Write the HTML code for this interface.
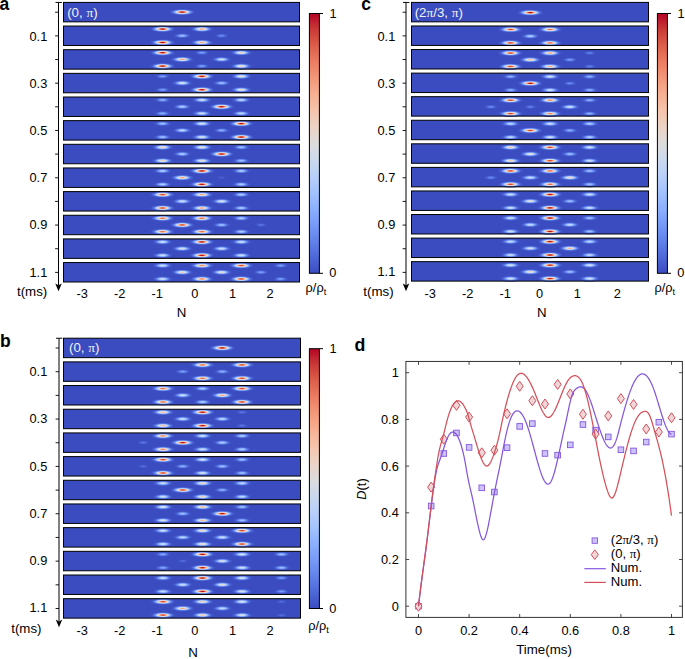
<!DOCTYPE html>
<html><head><meta charset="utf-8"><style>
html,body{margin:0;padding:0;background:#fff;overflow:hidden;}
svg{display:block;}
text{font-family:"Liberation Sans", sans-serif;fill:#000;}
</style></head><body>
<svg width="685" height="659" viewBox="0 0 685 659">
<defs>
<radialGradient id="g2" cx="0.5" cy="0.5" r="0.5"><stop offset="0.000" stop-color="#4961d2"/><stop offset="0.062" stop-color="#4961d2"/><stop offset="0.125" stop-color="#4961d2"/><stop offset="0.188" stop-color="#485fd1"/><stop offset="0.250" stop-color="#465ecf"/><stop offset="0.312" stop-color="#445acc"/><stop offset="0.375" stop-color="#4358cb"/><stop offset="0.438" stop-color="#4257c9"/><stop offset="0.500" stop-color="#3f53c6"/><stop offset="0.562" stop-color="#3e51c5"/><stop offset="0.625" stop-color="#3d50c3"/><stop offset="0.688" stop-color="#3c4ec2"/><stop offset="0.750" stop-color="#3c4ec2"/><stop offset="0.812" stop-color="#3b4cc0"/><stop offset="0.875" stop-color="#3b4cc0"/><stop offset="0.938" stop-color="#3b4cc0"/><stop offset="1.000" stop-color="#3b4cc0"/></radialGradient>
<radialGradient id="g3" cx="0.5" cy="0.5" r="0.5"><stop offset="0.000" stop-color="#516ddb"/><stop offset="0.062" stop-color="#516ddb"/><stop offset="0.125" stop-color="#506bda"/><stop offset="0.188" stop-color="#4f69d9"/><stop offset="0.250" stop-color="#4c66d6"/><stop offset="0.312" stop-color="#4a63d3"/><stop offset="0.375" stop-color="#485fd1"/><stop offset="0.438" stop-color="#455cce"/><stop offset="0.500" stop-color="#4358cb"/><stop offset="0.562" stop-color="#4055c8"/><stop offset="0.625" stop-color="#3e51c5"/><stop offset="0.688" stop-color="#3d50c3"/><stop offset="0.750" stop-color="#3c4ec2"/><stop offset="0.812" stop-color="#3c4ec2"/><stop offset="0.875" stop-color="#3b4cc0"/><stop offset="0.938" stop-color="#3b4cc0"/><stop offset="1.000" stop-color="#3b4cc0"/></radialGradient>
<radialGradient id="g4" cx="0.5" cy="0.5" r="0.5"><stop offset="0.000" stop-color="#5977e3"/><stop offset="0.062" stop-color="#5977e3"/><stop offset="0.125" stop-color="#5875e1"/><stop offset="0.188" stop-color="#5572df"/><stop offset="0.250" stop-color="#536edd"/><stop offset="0.312" stop-color="#4f69d9"/><stop offset="0.375" stop-color="#4c66d6"/><stop offset="0.438" stop-color="#4961d2"/><stop offset="0.500" stop-color="#455cce"/><stop offset="0.562" stop-color="#4358cb"/><stop offset="0.625" stop-color="#3f53c6"/><stop offset="0.688" stop-color="#3e51c5"/><stop offset="0.750" stop-color="#3d50c3"/><stop offset="0.812" stop-color="#3c4ec2"/><stop offset="0.875" stop-color="#3b4cc0"/><stop offset="0.938" stop-color="#3b4cc0"/><stop offset="1.000" stop-color="#3b4cc0"/></radialGradient>
<radialGradient id="g5" cx="0.5" cy="0.5" r="0.5"><stop offset="0.000" stop-color="#6282ea"/><stop offset="0.062" stop-color="#6180e9"/><stop offset="0.125" stop-color="#5f7fe8"/><stop offset="0.188" stop-color="#5d7ce6"/><stop offset="0.250" stop-color="#5977e3"/><stop offset="0.312" stop-color="#5572df"/><stop offset="0.375" stop-color="#506bda"/><stop offset="0.438" stop-color="#4c66d6"/><stop offset="0.500" stop-color="#485fd1"/><stop offset="0.562" stop-color="#445acc"/><stop offset="0.625" stop-color="#4257c9"/><stop offset="0.688" stop-color="#3f53c6"/><stop offset="0.750" stop-color="#3d50c3"/><stop offset="0.812" stop-color="#3c4ec2"/><stop offset="0.875" stop-color="#3c4ec2"/><stop offset="0.938" stop-color="#3b4cc0"/><stop offset="1.000" stop-color="#3b4cc0"/></radialGradient>
<radialGradient id="g6" cx="0.5" cy="0.5" r="0.5"><stop offset="0.000" stop-color="#6a8bef"/><stop offset="0.062" stop-color="#6a8bef"/><stop offset="0.125" stop-color="#6788ee"/><stop offset="0.188" stop-color="#6485ec"/><stop offset="0.250" stop-color="#5f7fe8"/><stop offset="0.312" stop-color="#5a78e4"/><stop offset="0.375" stop-color="#5572df"/><stop offset="0.438" stop-color="#506bda"/><stop offset="0.500" stop-color="#4b64d5"/><stop offset="0.562" stop-color="#465ecf"/><stop offset="0.625" stop-color="#4358cb"/><stop offset="0.688" stop-color="#4055c8"/><stop offset="0.750" stop-color="#3e51c5"/><stop offset="0.812" stop-color="#3d50c3"/><stop offset="0.875" stop-color="#3c4ec2"/><stop offset="0.938" stop-color="#3b4cc0"/><stop offset="1.000" stop-color="#3b4cc0"/></radialGradient>
<radialGradient id="g8" cx="0.5" cy="0.5" r="0.5"><stop offset="0.000" stop-color="#7b9ff9"/><stop offset="0.062" stop-color="#7a9df8"/><stop offset="0.125" stop-color="#779af7"/><stop offset="0.188" stop-color="#7396f5"/><stop offset="0.250" stop-color="#6e90f2"/><stop offset="0.312" stop-color="#6687ed"/><stop offset="0.375" stop-color="#5f7fe8"/><stop offset="0.438" stop-color="#5875e1"/><stop offset="0.500" stop-color="#506bda"/><stop offset="0.562" stop-color="#4b64d5"/><stop offset="0.625" stop-color="#455cce"/><stop offset="0.688" stop-color="#4257c9"/><stop offset="0.750" stop-color="#3f53c6"/><stop offset="0.812" stop-color="#3d50c3"/><stop offset="0.875" stop-color="#3c4ec2"/><stop offset="0.938" stop-color="#3b4cc0"/><stop offset="1.000" stop-color="#3b4cc0"/></radialGradient>
<radialGradient id="g9" cx="0.5" cy="0.5" r="0.5"><stop offset="0.000" stop-color="#84a7fc"/><stop offset="0.062" stop-color="#84a7fc"/><stop offset="0.125" stop-color="#80a3fa"/><stop offset="0.188" stop-color="#7b9ff9"/><stop offset="0.250" stop-color="#7597f6"/><stop offset="0.312" stop-color="#6c8ff1"/><stop offset="0.375" stop-color="#6384eb"/><stop offset="0.438" stop-color="#5b7ae5"/><stop offset="0.500" stop-color="#5470de"/><stop offset="0.562" stop-color="#4c66d6"/><stop offset="0.625" stop-color="#485fd1"/><stop offset="0.688" stop-color="#4358cb"/><stop offset="0.750" stop-color="#4055c8"/><stop offset="0.812" stop-color="#3e51c5"/><stop offset="0.875" stop-color="#3c4ec2"/><stop offset="0.938" stop-color="#3c4ec2"/><stop offset="1.000" stop-color="#3b4cc0"/></radialGradient>
<radialGradient id="g10" cx="0.5" cy="0.5" r="0.5"><stop offset="0.000" stop-color="#8db0fe"/><stop offset="0.062" stop-color="#8caffe"/><stop offset="0.125" stop-color="#89acfd"/><stop offset="0.188" stop-color="#84a7fc"/><stop offset="0.250" stop-color="#7b9ff9"/><stop offset="0.312" stop-color="#7295f4"/><stop offset="0.375" stop-color="#688aef"/><stop offset="0.438" stop-color="#5f7fe8"/><stop offset="0.500" stop-color="#5673e0"/><stop offset="0.562" stop-color="#4f69d9"/><stop offset="0.625" stop-color="#4961d2"/><stop offset="0.688" stop-color="#445acc"/><stop offset="0.750" stop-color="#4055c8"/><stop offset="0.812" stop-color="#3e51c5"/><stop offset="0.875" stop-color="#3d50c3"/><stop offset="0.938" stop-color="#3c4ec2"/><stop offset="1.000" stop-color="#3b4cc0"/></radialGradient>
<radialGradient id="g12" cx="0.5" cy="0.5" r="0.5"><stop offset="0.000" stop-color="#9ebeff"/><stop offset="0.062" stop-color="#9ebeff"/><stop offset="0.125" stop-color="#9abbff"/><stop offset="0.188" stop-color="#93b5fe"/><stop offset="0.250" stop-color="#89acfd"/><stop offset="0.312" stop-color="#7ea1fa"/><stop offset="0.375" stop-color="#7396f5"/><stop offset="0.438" stop-color="#6788ee"/><stop offset="0.500" stop-color="#5d7ce6"/><stop offset="0.562" stop-color="#5470de"/><stop offset="0.625" stop-color="#4b64d5"/><stop offset="0.688" stop-color="#465ecf"/><stop offset="0.750" stop-color="#4257c9"/><stop offset="0.812" stop-color="#3f53c6"/><stop offset="0.875" stop-color="#3d50c3"/><stop offset="0.938" stop-color="#3c4ec2"/><stop offset="1.000" stop-color="#3b4cc0"/></radialGradient>
<radialGradient id="g14" cx="0.5" cy="0.5" r="0.5"><stop offset="0.000" stop-color="#afcafc"/><stop offset="0.062" stop-color="#aec9fc"/><stop offset="0.125" stop-color="#aac7fd"/><stop offset="0.188" stop-color="#a2c1ff"/><stop offset="0.250" stop-color="#98b9ff"/><stop offset="0.312" stop-color="#8badfd"/><stop offset="0.375" stop-color="#7da0f9"/><stop offset="0.438" stop-color="#6f92f3"/><stop offset="0.500" stop-color="#6282ea"/><stop offset="0.562" stop-color="#5875e1"/><stop offset="0.625" stop-color="#4f69d9"/><stop offset="0.688" stop-color="#485fd1"/><stop offset="0.750" stop-color="#4358cb"/><stop offset="0.812" stop-color="#3f53c6"/><stop offset="0.875" stop-color="#3d50c3"/><stop offset="0.938" stop-color="#3c4ec2"/><stop offset="1.000" stop-color="#3b4cc0"/></radialGradient>
<radialGradient id="g16" cx="0.5" cy="0.5" r="0.5"><stop offset="0.000" stop-color="#c0d4f5"/><stop offset="0.062" stop-color="#bfd3f6"/><stop offset="0.125" stop-color="#bad0f8"/><stop offset="0.188" stop-color="#b2ccfb"/><stop offset="0.250" stop-color="#a6c4fe"/><stop offset="0.312" stop-color="#97b8ff"/><stop offset="0.375" stop-color="#88abfd"/><stop offset="0.438" stop-color="#779af7"/><stop offset="0.500" stop-color="#688aef"/><stop offset="0.562" stop-color="#5d7ce6"/><stop offset="0.625" stop-color="#516ddb"/><stop offset="0.688" stop-color="#4a63d3"/><stop offset="0.750" stop-color="#445acc"/><stop offset="0.812" stop-color="#4055c8"/><stop offset="0.875" stop-color="#3e51c5"/><stop offset="0.938" stop-color="#3c4ec2"/><stop offset="1.000" stop-color="#3c4ec2"/></radialGradient>
<radialGradient id="g17" cx="0.5" cy="0.5" r="0.5"><stop offset="0.000" stop-color="#c7d7f0"/><stop offset="0.062" stop-color="#c6d6f1"/><stop offset="0.125" stop-color="#c1d4f4"/><stop offset="0.188" stop-color="#b9d0f9"/><stop offset="0.250" stop-color="#adc9fd"/><stop offset="0.312" stop-color="#9ebeff"/><stop offset="0.375" stop-color="#8caffe"/><stop offset="0.438" stop-color="#7b9ff9"/><stop offset="0.500" stop-color="#6c8ff1"/><stop offset="0.562" stop-color="#5e7de7"/><stop offset="0.625" stop-color="#5470de"/><stop offset="0.688" stop-color="#4b64d5"/><stop offset="0.750" stop-color="#455cce"/><stop offset="0.812" stop-color="#4055c8"/><stop offset="0.875" stop-color="#3e51c5"/><stop offset="0.938" stop-color="#3d50c3"/><stop offset="1.000" stop-color="#3c4ec2"/></radialGradient>
<radialGradient id="g18" cx="0.5" cy="0.5" r="0.5"><stop offset="0.000" stop-color="#cfdaea"/><stop offset="0.062" stop-color="#cedaeb"/><stop offset="0.125" stop-color="#c9d7f0"/><stop offset="0.188" stop-color="#c0d4f5"/><stop offset="0.250" stop-color="#b3cdfb"/><stop offset="0.312" stop-color="#a3c2fe"/><stop offset="0.375" stop-color="#92b4fe"/><stop offset="0.438" stop-color="#80a3fa"/><stop offset="0.500" stop-color="#6f92f3"/><stop offset="0.562" stop-color="#6180e9"/><stop offset="0.625" stop-color="#5572df"/><stop offset="0.688" stop-color="#4c66d6"/><stop offset="0.750" stop-color="#465ecf"/><stop offset="0.812" stop-color="#4257c9"/><stop offset="0.875" stop-color="#3e51c5"/><stop offset="0.938" stop-color="#3d50c3"/><stop offset="1.000" stop-color="#3c4ec2"/></radialGradient>
<radialGradient id="g19" cx="0.5" cy="0.5" r="0.5"><stop offset="0.000" stop-color="#d6dce4"/><stop offset="0.062" stop-color="#d5dbe5"/><stop offset="0.125" stop-color="#cfdaea"/><stop offset="0.188" stop-color="#c7d7f0"/><stop offset="0.250" stop-color="#bad0f8"/><stop offset="0.312" stop-color="#aac7fd"/><stop offset="0.375" stop-color="#97b8ff"/><stop offset="0.438" stop-color="#84a7fc"/><stop offset="0.500" stop-color="#7295f4"/><stop offset="0.562" stop-color="#6384eb"/><stop offset="0.625" stop-color="#5673e0"/><stop offset="0.688" stop-color="#4e68d8"/><stop offset="0.750" stop-color="#465ecf"/><stop offset="0.812" stop-color="#4257c9"/><stop offset="0.875" stop-color="#3e51c5"/><stop offset="0.938" stop-color="#3d50c3"/><stop offset="1.000" stop-color="#3c4ec2"/></radialGradient>
<radialGradient id="g20" cx="0.5" cy="0.5" r="0.5"><stop offset="0.000" stop-color="#dddcdc"/><stop offset="0.062" stop-color="#dbdcde"/><stop offset="0.125" stop-color="#d7dce3"/><stop offset="0.188" stop-color="#cedaeb"/><stop offset="0.250" stop-color="#c0d4f5"/><stop offset="0.312" stop-color="#afcafc"/><stop offset="0.375" stop-color="#9dbdff"/><stop offset="0.438" stop-color="#88abfd"/><stop offset="0.500" stop-color="#7699f6"/><stop offset="0.562" stop-color="#6687ed"/><stop offset="0.625" stop-color="#5875e1"/><stop offset="0.688" stop-color="#4f69d9"/><stop offset="0.750" stop-color="#485fd1"/><stop offset="0.812" stop-color="#4257c9"/><stop offset="0.875" stop-color="#3f53c6"/><stop offset="0.938" stop-color="#3d50c3"/><stop offset="1.000" stop-color="#3c4ec2"/></radialGradient>
<radialGradient id="g22" cx="0.5" cy="0.5" r="0.5"><stop offset="0.000" stop-color="#e9d5cb"/><stop offset="0.062" stop-color="#e8d6cc"/><stop offset="0.125" stop-color="#e3d9d3"/><stop offset="0.188" stop-color="#dadce0"/><stop offset="0.250" stop-color="#cdd9ec"/><stop offset="0.312" stop-color="#bbd1f8"/><stop offset="0.375" stop-color="#a6c4fe"/><stop offset="0.438" stop-color="#90b2fe"/><stop offset="0.500" stop-color="#7b9ff9"/><stop offset="0.562" stop-color="#6a8bef"/><stop offset="0.625" stop-color="#5b7ae5"/><stop offset="0.688" stop-color="#506bda"/><stop offset="0.750" stop-color="#4961d2"/><stop offset="0.812" stop-color="#4358cb"/><stop offset="0.875" stop-color="#3f53c6"/><stop offset="0.938" stop-color="#3d50c3"/><stop offset="1.000" stop-color="#3c4ec2"/></radialGradient>
<radialGradient id="g24" cx="0.5" cy="0.5" r="0.5"><stop offset="0.000" stop-color="#f2cbb7"/><stop offset="0.062" stop-color="#f1ccb8"/><stop offset="0.125" stop-color="#edd1c2"/><stop offset="0.188" stop-color="#e5d8d1"/><stop offset="0.250" stop-color="#d8dce2"/><stop offset="0.312" stop-color="#c6d6f1"/><stop offset="0.375" stop-color="#b1cbfc"/><stop offset="0.438" stop-color="#98b9ff"/><stop offset="0.500" stop-color="#82a6fb"/><stop offset="0.562" stop-color="#6f92f3"/><stop offset="0.625" stop-color="#5e7de7"/><stop offset="0.688" stop-color="#536edd"/><stop offset="0.750" stop-color="#4a63d3"/><stop offset="0.812" stop-color="#445acc"/><stop offset="0.875" stop-color="#3f53c6"/><stop offset="0.938" stop-color="#3d50c3"/><stop offset="1.000" stop-color="#3c4ec2"/></radialGradient>
<radialGradient id="g25" cx="0.5" cy="0.5" r="0.5"><stop offset="0.000" stop-color="#f5c4ac"/><stop offset="0.062" stop-color="#f4c6af"/><stop offset="0.125" stop-color="#f1ccb8"/><stop offset="0.188" stop-color="#ead4c8"/><stop offset="0.250" stop-color="#dddcdc"/><stop offset="0.312" stop-color="#ccd9ed"/><stop offset="0.375" stop-color="#b6cefa"/><stop offset="0.438" stop-color="#9dbdff"/><stop offset="0.500" stop-color="#85a8fc"/><stop offset="0.562" stop-color="#7093f3"/><stop offset="0.625" stop-color="#6180e9"/><stop offset="0.688" stop-color="#5470de"/><stop offset="0.750" stop-color="#4a63d3"/><stop offset="0.812" stop-color="#445acc"/><stop offset="0.875" stop-color="#4055c8"/><stop offset="0.938" stop-color="#3d50c3"/><stop offset="1.000" stop-color="#3c4ec2"/></radialGradient>
<radialGradient id="g27" cx="0.5" cy="0.5" r="0.5"><stop offset="0.000" stop-color="#f7b599"/><stop offset="0.062" stop-color="#f7b79b"/><stop offset="0.125" stop-color="#f6bfa6"/><stop offset="0.188" stop-color="#f2cbb7"/><stop offset="0.250" stop-color="#e8d6cc"/><stop offset="0.312" stop-color="#d6dce4"/><stop offset="0.375" stop-color="#bfd3f6"/><stop offset="0.438" stop-color="#a5c3fe"/><stop offset="0.500" stop-color="#8caffe"/><stop offset="0.562" stop-color="#7699f6"/><stop offset="0.625" stop-color="#6384eb"/><stop offset="0.688" stop-color="#5673e0"/><stop offset="0.750" stop-color="#4c66d6"/><stop offset="0.812" stop-color="#455cce"/><stop offset="0.875" stop-color="#4055c8"/><stop offset="0.938" stop-color="#3e51c5"/><stop offset="1.000" stop-color="#3c4ec2"/></radialGradient>
<radialGradient id="g29" cx="0.5" cy="0.5" r="0.5"><stop offset="0.000" stop-color="#f6a385"/><stop offset="0.062" stop-color="#f7a688"/><stop offset="0.125" stop-color="#f7af91"/><stop offset="0.188" stop-color="#f6bea4"/><stop offset="0.250" stop-color="#efcebd"/><stop offset="0.312" stop-color="#dfdbd9"/><stop offset="0.375" stop-color="#c9d7f0"/><stop offset="0.438" stop-color="#aec9fc"/><stop offset="0.500" stop-color="#93b5fe"/><stop offset="0.562" stop-color="#7a9df8"/><stop offset="0.625" stop-color="#6788ee"/><stop offset="0.688" stop-color="#5875e1"/><stop offset="0.750" stop-color="#4e68d8"/><stop offset="0.812" stop-color="#465ecf"/><stop offset="0.875" stop-color="#4257c9"/><stop offset="0.938" stop-color="#3e51c5"/><stop offset="1.000" stop-color="#3c4ec2"/></radialGradient>
<radialGradient id="g32" cx="0.5" cy="0.5" r="0.5"><stop offset="0.000" stop-color="#ee8468"/><stop offset="0.062" stop-color="#ef886b"/><stop offset="0.125" stop-color="#f39475"/><stop offset="0.188" stop-color="#f7a889"/><stop offset="0.250" stop-color="#f6bfa6"/><stop offset="0.312" stop-color="#ebd3c6"/><stop offset="0.375" stop-color="#d5dbe5"/><stop offset="0.438" stop-color="#bad0f8"/><stop offset="0.500" stop-color="#9dbdff"/><stop offset="0.562" stop-color="#82a6fb"/><stop offset="0.625" stop-color="#6b8df0"/><stop offset="0.688" stop-color="#5b7ae5"/><stop offset="0.750" stop-color="#4f69d9"/><stop offset="0.812" stop-color="#485fd1"/><stop offset="0.875" stop-color="#4257c9"/><stop offset="0.938" stop-color="#3e51c5"/><stop offset="1.000" stop-color="#3d50c3"/></radialGradient>
<radialGradient id="g34" cx="0.5" cy="0.5" r="0.5"><stop offset="0.000" stop-color="#e36c55"/><stop offset="0.062" stop-color="#e57058"/><stop offset="0.125" stop-color="#ec7f63"/><stop offset="0.188" stop-color="#f39778"/><stop offset="0.250" stop-color="#f7b194"/><stop offset="0.312" stop-color="#f1ccb8"/><stop offset="0.375" stop-color="#dcdddd"/><stop offset="0.438" stop-color="#c1d4f4"/><stop offset="0.500" stop-color="#a3c2fe"/><stop offset="0.562" stop-color="#86a9fc"/><stop offset="0.625" stop-color="#6f92f3"/><stop offset="0.688" stop-color="#5e7de7"/><stop offset="0.750" stop-color="#506bda"/><stop offset="0.812" stop-color="#485fd1"/><stop offset="0.875" stop-color="#4358cb"/><stop offset="0.938" stop-color="#3f53c6"/><stop offset="1.000" stop-color="#3d50c3"/></radialGradient>
<radialGradient id="g37" cx="0.5" cy="0.5" r="0.5"><stop offset="0.000" stop-color="#cf453c"/><stop offset="0.062" stop-color="#d1493f"/><stop offset="0.125" stop-color="#dc5d4a"/><stop offset="0.188" stop-color="#e97a5f"/><stop offset="0.250" stop-color="#f59c7d"/><stop offset="0.312" stop-color="#f6bea4"/><stop offset="0.375" stop-color="#e8d6cc"/><stop offset="0.438" stop-color="#ccd9ed"/><stop offset="0.500" stop-color="#adc9fd"/><stop offset="0.562" stop-color="#8db0fe"/><stop offset="0.625" stop-color="#7597f6"/><stop offset="0.688" stop-color="#6180e9"/><stop offset="0.750" stop-color="#536edd"/><stop offset="0.812" stop-color="#4961d2"/><stop offset="0.875" stop-color="#4358cb"/><stop offset="0.938" stop-color="#3f53c6"/><stop offset="1.000" stop-color="#3d50c3"/></radialGradient>
<radialGradient id="g39" cx="0.5" cy="0.5" r="0.5"><stop offset="0.000" stop-color="#bd1f2d"/><stop offset="0.062" stop-color="#c0282f"/><stop offset="0.125" stop-color="#cc403a"/><stop offset="0.188" stop-color="#df634e"/><stop offset="0.250" stop-color="#f08b6e"/><stop offset="0.312" stop-color="#f7b396"/><stop offset="0.375" stop-color="#edd1c2"/><stop offset="0.438" stop-color="#d3dbe7"/><stop offset="0.500" stop-color="#b2ccfb"/><stop offset="0.562" stop-color="#93b5fe"/><stop offset="0.625" stop-color="#779af7"/><stop offset="0.688" stop-color="#6384eb"/><stop offset="0.750" stop-color="#5470de"/><stop offset="0.812" stop-color="#4a63d3"/><stop offset="0.875" stop-color="#445acc"/><stop offset="0.938" stop-color="#3f53c6"/><stop offset="1.000" stop-color="#3d50c3"/></radialGradient>
<radialGradient id="g40" cx="0.5" cy="0.5" r="0.5"><stop offset="0.000" stop-color="#b40426"/><stop offset="0.062" stop-color="#b70d28"/><stop offset="0.125" stop-color="#c43032"/><stop offset="0.188" stop-color="#d85646"/><stop offset="0.250" stop-color="#ed8366"/><stop offset="0.312" stop-color="#f7ac8e"/><stop offset="0.375" stop-color="#f0cdbb"/><stop offset="0.438" stop-color="#d6dce4"/><stop offset="0.500" stop-color="#b6cefa"/><stop offset="0.562" stop-color="#96b7ff"/><stop offset="0.625" stop-color="#799cf8"/><stop offset="0.688" stop-color="#6485ec"/><stop offset="0.750" stop-color="#5572df"/><stop offset="0.812" stop-color="#4a63d3"/><stop offset="0.875" stop-color="#445acc"/><stop offset="0.938" stop-color="#3f53c6"/><stop offset="1.000" stop-color="#3d50c3"/></radialGradient>
<linearGradient id="cbar" x1="0" y1="0" x2="0" y2="1"><stop offset="0.0000" stop-color="#b40426"/><stop offset="0.0625" stop-color="#ca3b37"/><stop offset="0.1250" stop-color="#dd5f4b"/><stop offset="0.1875" stop-color="#eb7d62"/><stop offset="0.2500" stop-color="#f4987a"/><stop offset="0.3125" stop-color="#f7b093"/><stop offset="0.3750" stop-color="#f5c4ac"/><stop offset="0.4375" stop-color="#ecd3c5"/><stop offset="0.5000" stop-color="#dddcdc"/><stop offset="0.5625" stop-color="#ccd9ed"/><stop offset="0.6250" stop-color="#b9d0f9"/><stop offset="0.6875" stop-color="#a3c2fe"/><stop offset="0.7500" stop-color="#8db0fe"/><stop offset="0.8125" stop-color="#779af7"/><stop offset="0.8750" stop-color="#6282ea"/><stop offset="0.9375" stop-color="#4e68d8"/><stop offset="1.0000" stop-color="#3b4cc0"/></linearGradient>
</defs>
<rect width="685" height="659" fill="#fff"/>
<g transform="translate(0.00,0.00)">
<rect x="63.50" y="2.40" width="236.00" height="19.45" fill="#3b4cc0"/>
<ellipse cx="182.22" cy="12.12" rx="13.00" ry="3.24" fill="url(#g40)"/>
<rect x="63.50" y="2.40" width="236.00" height="19.45" fill="none" stroke="#000" stroke-width="1"/>
<rect x="63.50" y="26.05" width="236.00" height="19.45" fill="#3b4cc0"/>
<ellipse cx="162.54" cy="29.07" rx="12.66" ry="3.21" fill="url(#g40)"/>
<ellipse cx="162.54" cy="42.48" rx="12.66" ry="3.21" fill="url(#g40)"/>
<ellipse cx="201.90" cy="29.07" rx="11.89" ry="3.13" fill="url(#g29)"/>
<ellipse cx="201.90" cy="42.48" rx="11.89" ry="3.13" fill="url(#g29)"/>
<ellipse cx="182.22" cy="35.77" rx="9.62" ry="2.87" fill="url(#g12)"/>
<ellipse cx="221.58" cy="35.77" rx="8.09" ry="2.68" fill="url(#g6)"/>
<rect x="63.50" y="26.05" width="236.00" height="19.45" fill="none" stroke="#000" stroke-width="1"/>
<rect x="63.50" y="49.70" width="236.00" height="19.45" fill="#3b4cc0"/>
<ellipse cx="162.54" cy="52.72" rx="12.66" ry="3.21" fill="url(#g40)"/>
<ellipse cx="162.54" cy="66.12" rx="12.66" ry="3.21" fill="url(#g40)"/>
<ellipse cx="201.90" cy="52.72" rx="8.69" ry="2.76" fill="url(#g8)"/>
<ellipse cx="201.90" cy="66.12" rx="8.69" ry="2.76" fill="url(#g8)"/>
<ellipse cx="241.26" cy="52.72" rx="11.44" ry="3.08" fill="url(#g24)"/>
<ellipse cx="241.26" cy="66.12" rx="11.44" ry="3.08" fill="url(#g24)"/>
<ellipse cx="182.22" cy="59.42" rx="11.89" ry="3.13" fill="url(#g29)"/>
<ellipse cx="221.58" cy="59.42" rx="10.65" ry="2.99" fill="url(#g18)"/>
<rect x="63.50" y="49.70" width="236.00" height="19.45" fill="none" stroke="#000" stroke-width="1"/>
<rect x="63.50" y="73.35" width="236.00" height="19.45" fill="#3b4cc0"/>
<ellipse cx="162.54" cy="76.37" rx="8.69" ry="2.76" fill="url(#g8)"/>
<ellipse cx="162.54" cy="89.77" rx="8.69" ry="2.76" fill="url(#g8)"/>
<ellipse cx="201.90" cy="76.37" rx="12.66" ry="3.21" fill="url(#g40)"/>
<ellipse cx="201.90" cy="89.77" rx="12.66" ry="3.21" fill="url(#g40)"/>
<ellipse cx="241.26" cy="76.37" rx="11.20" ry="3.05" fill="url(#g22)"/>
<ellipse cx="241.26" cy="89.77" rx="11.20" ry="3.05" fill="url(#g22)"/>
<ellipse cx="182.22" cy="83.07" rx="10.93" ry="3.02" fill="url(#g20)"/>
<ellipse cx="221.58" cy="83.07" rx="9.62" ry="2.87" fill="url(#g12)"/>
<rect x="63.50" y="73.35" width="236.00" height="19.45" fill="none" stroke="#000" stroke-width="1"/>
<rect x="63.50" y="97.00" width="236.00" height="19.45" fill="#3b4cc0"/>
<ellipse cx="162.54" cy="100.02" rx="9.19" ry="2.82" fill="url(#g10)"/>
<ellipse cx="162.54" cy="113.42" rx="9.19" ry="2.82" fill="url(#g10)"/>
<ellipse cx="201.90" cy="100.02" rx="10.65" ry="2.99" fill="url(#g18)"/>
<ellipse cx="201.90" cy="113.42" rx="10.65" ry="2.99" fill="url(#g18)"/>
<ellipse cx="241.26" cy="100.02" rx="10.34" ry="2.96" fill="url(#g16)"/>
<ellipse cx="241.26" cy="113.42" rx="10.34" ry="2.96" fill="url(#g16)"/>
<ellipse cx="182.22" cy="106.72" rx="10.00" ry="2.92" fill="url(#g14)"/>
<ellipse cx="221.58" cy="106.72" rx="12.83" ry="3.22" fill="url(#g40)"/>
<rect x="63.50" y="97.00" width="236.00" height="19.45" fill="none" stroke="#000" stroke-width="1"/>
<rect x="63.50" y="120.65" width="236.00" height="19.45" fill="#3b4cc0"/>
<ellipse cx="162.54" cy="123.67" rx="9.62" ry="2.87" fill="url(#g12)"/>
<ellipse cx="162.54" cy="137.07" rx="9.62" ry="2.87" fill="url(#g12)"/>
<ellipse cx="201.90" cy="123.67" rx="10.93" ry="3.02" fill="url(#g20)"/>
<ellipse cx="201.90" cy="137.07" rx="10.93" ry="3.02" fill="url(#g20)"/>
<ellipse cx="241.26" cy="123.67" rx="12.66" ry="3.21" fill="url(#g40)"/>
<ellipse cx="241.26" cy="137.07" rx="12.66" ry="3.21" fill="url(#g40)"/>
<ellipse cx="182.22" cy="130.38" rx="10.34" ry="2.96" fill="url(#g16)"/>
<ellipse cx="221.58" cy="130.38" rx="9.19" ry="2.82" fill="url(#g10)"/>
<rect x="63.50" y="120.65" width="236.00" height="19.45" fill="none" stroke="#000" stroke-width="1"/>
<rect x="63.50" y="144.30" width="236.00" height="19.45" fill="#3b4cc0"/>
<ellipse cx="162.54" cy="147.32" rx="11.44" ry="3.08" fill="url(#g24)"/>
<ellipse cx="162.54" cy="160.72" rx="11.44" ry="3.08" fill="url(#g24)"/>
<ellipse cx="201.90" cy="147.32" rx="11.20" ry="3.05" fill="url(#g22)"/>
<ellipse cx="201.90" cy="160.72" rx="11.20" ry="3.05" fill="url(#g22)"/>
<ellipse cx="241.26" cy="147.32" rx="9.62" ry="2.87" fill="url(#g12)"/>
<ellipse cx="241.26" cy="160.72" rx="9.62" ry="2.87" fill="url(#g12)"/>
<ellipse cx="182.22" cy="154.02" rx="10.00" ry="2.92" fill="url(#g14)"/>
<ellipse cx="221.58" cy="154.02" rx="12.66" ry="3.21" fill="url(#g40)"/>
<rect x="63.50" y="144.30" width="236.00" height="19.45" fill="none" stroke="#000" stroke-width="1"/>
<rect x="63.50" y="167.95" width="236.00" height="19.45" fill="#3b4cc0"/>
<ellipse cx="162.54" cy="170.97" rx="10.00" ry="2.92" fill="url(#g14)"/>
<ellipse cx="162.54" cy="184.37" rx="10.00" ry="2.92" fill="url(#g14)"/>
<ellipse cx="201.90" cy="170.97" rx="12.66" ry="3.21" fill="url(#g40)"/>
<ellipse cx="201.90" cy="184.37" rx="12.66" ry="3.21" fill="url(#g40)"/>
<ellipse cx="241.26" cy="170.97" rx="10.00" ry="2.92" fill="url(#g14)"/>
<ellipse cx="241.26" cy="184.37" rx="10.00" ry="2.92" fill="url(#g14)"/>
<ellipse cx="182.22" cy="177.67" rx="11.89" ry="3.13" fill="url(#g29)"/>
<ellipse cx="221.58" cy="177.67" rx="6.15" ry="2.40" fill="url(#g2)"/>
<rect x="63.50" y="167.95" width="236.00" height="19.45" fill="none" stroke="#000" stroke-width="1"/>
<rect x="63.50" y="191.60" width="236.00" height="19.45" fill="#3b4cc0"/>
<ellipse cx="162.54" cy="194.62" rx="12.48" ry="3.19" fill="url(#g37)"/>
<ellipse cx="162.54" cy="208.02" rx="12.48" ry="3.19" fill="url(#g37)"/>
<ellipse cx="201.90" cy="194.62" rx="11.89" ry="3.13" fill="url(#g29)"/>
<ellipse cx="201.90" cy="208.02" rx="11.89" ry="3.13" fill="url(#g29)"/>
<ellipse cx="241.26" cy="194.62" rx="10.00" ry="2.92" fill="url(#g14)"/>
<ellipse cx="241.26" cy="208.02" rx="10.00" ry="2.92" fill="url(#g14)"/>
<ellipse cx="182.22" cy="201.32" rx="10.65" ry="2.99" fill="url(#g18)"/>
<ellipse cx="221.58" cy="201.32" rx="10.93" ry="3.02" fill="url(#g20)"/>
<rect x="63.50" y="191.60" width="236.00" height="19.45" fill="none" stroke="#000" stroke-width="1"/>
<rect x="63.50" y="215.25" width="236.00" height="19.45" fill="#3b4cc0"/>
<ellipse cx="162.54" cy="218.28" rx="12.29" ry="3.17" fill="url(#g34)"/>
<ellipse cx="162.54" cy="231.67" rx="12.29" ry="3.17" fill="url(#g34)"/>
<ellipse cx="201.90" cy="218.28" rx="12.29" ry="3.17" fill="url(#g34)"/>
<ellipse cx="201.90" cy="231.67" rx="12.29" ry="3.17" fill="url(#g34)"/>
<ellipse cx="241.26" cy="218.28" rx="10.00" ry="2.92" fill="url(#g14)"/>
<ellipse cx="241.26" cy="231.67" rx="10.00" ry="2.92" fill="url(#g14)"/>
<ellipse cx="182.22" cy="224.97" rx="12.48" ry="3.19" fill="url(#g37)"/>
<ellipse cx="221.58" cy="224.97" rx="9.62" ry="2.87" fill="url(#g12)"/>
<ellipse cx="260.94" cy="224.97" rx="7.31" ry="2.57" fill="url(#g4)"/>
<rect x="63.50" y="215.25" width="236.00" height="19.45" fill="none" stroke="#000" stroke-width="1"/>
<rect x="63.50" y="238.90" width="236.00" height="19.45" fill="#3b4cc0"/>
<ellipse cx="162.54" cy="241.93" rx="10.65" ry="2.99" fill="url(#g18)"/>
<ellipse cx="162.54" cy="255.32" rx="10.65" ry="2.99" fill="url(#g18)"/>
<ellipse cx="201.90" cy="241.93" rx="12.66" ry="3.21" fill="url(#g40)"/>
<ellipse cx="201.90" cy="255.32" rx="12.66" ry="3.21" fill="url(#g40)"/>
<ellipse cx="241.26" cy="241.93" rx="10.65" ry="2.99" fill="url(#g18)"/>
<ellipse cx="241.26" cy="255.32" rx="10.65" ry="2.99" fill="url(#g18)"/>
<ellipse cx="182.22" cy="248.62" rx="10.93" ry="3.02" fill="url(#g20)"/>
<ellipse cx="221.58" cy="248.62" rx="10.65" ry="2.99" fill="url(#g18)"/>
<rect x="63.50" y="238.90" width="236.00" height="19.45" fill="none" stroke="#000" stroke-width="1"/>
<rect x="63.50" y="262.55" width="236.00" height="19.45" fill="#3b4cc0"/>
<ellipse cx="162.54" cy="265.57" rx="10.65" ry="2.99" fill="url(#g18)"/>
<ellipse cx="162.54" cy="278.97" rx="10.65" ry="2.99" fill="url(#g18)"/>
<ellipse cx="201.90" cy="265.57" rx="12.10" ry="3.15" fill="url(#g32)"/>
<ellipse cx="201.90" cy="278.97" rx="12.10" ry="3.15" fill="url(#g32)"/>
<ellipse cx="241.26" cy="265.57" rx="12.48" ry="3.19" fill="url(#g37)"/>
<ellipse cx="241.26" cy="278.97" rx="12.48" ry="3.19" fill="url(#g37)"/>
<ellipse cx="280.62" cy="265.57" rx="8.69" ry="2.76" fill="url(#g8)"/>
<ellipse cx="280.62" cy="278.97" rx="8.69" ry="2.76" fill="url(#g8)"/>
<ellipse cx="182.22" cy="272.27" rx="11.44" ry="3.08" fill="url(#g24)"/>
<ellipse cx="221.58" cy="272.27" rx="11.20" ry="3.05" fill="url(#g22)"/>
<ellipse cx="260.94" cy="272.27" rx="8.69" ry="2.76" fill="url(#g8)"/>
<rect x="63.50" y="262.55" width="236.00" height="19.45" fill="none" stroke="#000" stroke-width="1"/>
<line x1="58.50" y1="2.4" x2="58.50" y2="285.00" stroke="#000" stroke-width="1"/>
<line x1="55.50" y1="2.45" x2="61.90" y2="2.45" stroke="#000" stroke-width="0.95"/>
<path d="M55.25,283.40 L58.50,285.30 L61.75,283.40 L58.50,291.20 Z" fill="#000"/>
<line x1="55.10" y1="12.22" x2="58.50" y2="12.22" stroke="#000" stroke-width="0.9"/>
<line x1="55.10" y1="35.88" x2="58.50" y2="35.88" stroke="#000" stroke-width="0.9"/>
<text x="47.3" y="41.05" text-anchor="end" font-size="12.8">0.1</text>
<line x1="55.10" y1="59.52" x2="58.50" y2="59.52" stroke="#000" stroke-width="0.9"/>
<line x1="55.10" y1="83.17" x2="58.50" y2="83.17" stroke="#000" stroke-width="0.9"/>
<text x="47.3" y="88.14" text-anchor="end" font-size="12.8">0.3</text>
<line x1="55.10" y1="106.82" x2="58.50" y2="106.82" stroke="#000" stroke-width="0.9"/>
<line x1="55.10" y1="130.47" x2="58.50" y2="130.47" stroke="#000" stroke-width="0.9"/>
<text x="47.3" y="135.23" text-anchor="end" font-size="12.8">0.5</text>
<line x1="55.10" y1="154.12" x2="58.50" y2="154.12" stroke="#000" stroke-width="0.9"/>
<line x1="55.10" y1="177.77" x2="58.50" y2="177.77" stroke="#000" stroke-width="0.9"/>
<text x="47.3" y="182.32" text-anchor="end" font-size="12.8">0.7</text>
<line x1="55.10" y1="201.42" x2="58.50" y2="201.42" stroke="#000" stroke-width="0.9"/>
<line x1="55.10" y1="225.07" x2="58.50" y2="225.07" stroke="#000" stroke-width="0.9"/>
<text x="47.3" y="229.41" text-anchor="end" font-size="12.8">0.9</text>
<line x1="55.10" y1="248.72" x2="58.50" y2="248.72" stroke="#000" stroke-width="0.9"/>
<line x1="55.10" y1="272.38" x2="58.50" y2="272.38" stroke="#000" stroke-width="0.9"/>
<text x="47.3" y="276.50" text-anchor="end" font-size="12.8">1.1</text>
<text x="82.10" y="297.90" text-anchor="middle" font-size="12.8">-3</text>
<text x="119.70" y="297.90" text-anchor="middle" font-size="12.8">-2</text>
<text x="157.30" y="297.90" text-anchor="middle" font-size="12.8">-1</text>
<text x="194.90" y="297.90" text-anchor="middle" font-size="12.8">0</text>
<text x="232.50" y="297.90" text-anchor="middle" font-size="12.8">1</text>
<text x="270.10" y="297.90" text-anchor="middle" font-size="12.8">2</text>
<text x="181.50" y="316.90" text-anchor="middle" font-size="13.3">N</text>
<rect x="309.4" y="13.50" width="10" height="259.8" fill="url(#cbar)" stroke="#000" stroke-width="1"/>
<line x1="319.4" y1="13.50" x2="323" y2="13.50" stroke="#000" stroke-width="1"/>
<line x1="319.4" y1="273.30" x2="323" y2="273.30" stroke="#000" stroke-width="1"/>
<text x="329.5" y="17.6" font-size="12.8">1</text>
<text x="329.2" y="277.3" font-size="12.8">0</text>
<text x="305.60" y="292.40" font-size="12.8">ρ/ρ<tspan font-size="9.2" dy="2.6">t</tspan></text>
</g>
<text x="17.00" y="296.40" font-size="13.3">t(ms)</text>
<text x="67.20" y="17.40" style="fill:#f2f2f2" font-size="13.3">(0, <tspan style="font-family:Liberation Serif">π</tspan>)</text>
<text x="-0.40" y="10.10" font-size="17.5" font-weight="bold">a</text>
<g transform="translate(348.00,0.00)">
<rect x="63.50" y="2.40" width="237.00" height="19.45" fill="#3b4cc0"/>
<ellipse cx="182.32" cy="12.62" rx="13.00" ry="3.24" fill="url(#g40)"/>
<rect x="63.50" y="2.40" width="237.00" height="19.45" fill="none" stroke="#000" stroke-width="1"/>
<rect x="63.50" y="25.97" width="237.00" height="19.45" fill="#3b4cc0"/>
<ellipse cx="162.56" cy="29.50" rx="12.48" ry="3.19" fill="url(#g37)"/>
<ellipse cx="162.56" cy="42.90" rx="12.48" ry="3.19" fill="url(#g37)"/>
<ellipse cx="202.09" cy="29.50" rx="12.29" ry="3.17" fill="url(#g34)"/>
<ellipse cx="202.09" cy="42.90" rx="12.29" ry="3.17" fill="url(#g34)"/>
<ellipse cx="182.32" cy="36.20" rx="10.00" ry="2.92" fill="url(#g14)"/>
<rect x="63.50" y="25.97" width="237.00" height="19.45" fill="none" stroke="#000" stroke-width="1"/>
<rect x="63.50" y="49.54" width="237.00" height="19.45" fill="#3b4cc0"/>
<ellipse cx="162.56" cy="53.06" rx="12.48" ry="3.19" fill="url(#g37)"/>
<ellipse cx="162.56" cy="66.47" rx="12.48" ry="3.19" fill="url(#g37)"/>
<ellipse cx="202.09" cy="53.06" rx="11.89" ry="3.13" fill="url(#g29)"/>
<ellipse cx="202.09" cy="66.47" rx="11.89" ry="3.13" fill="url(#g29)"/>
<ellipse cx="241.61" cy="53.06" rx="7.65" ry="2.62" fill="url(#g5)"/>
<ellipse cx="241.61" cy="66.47" rx="7.65" ry="2.62" fill="url(#g5)"/>
<ellipse cx="182.32" cy="59.77" rx="11.67" ry="3.10" fill="url(#g27)"/>
<ellipse cx="221.85" cy="59.77" rx="8.69" ry="2.76" fill="url(#g8)"/>
<rect x="63.50" y="49.54" width="237.00" height="19.45" fill="none" stroke="#000" stroke-width="1"/>
<rect x="63.50" y="73.11" width="237.00" height="19.45" fill="#3b4cc0"/>
<ellipse cx="162.56" cy="76.64" rx="9.19" ry="2.82" fill="url(#g10)"/>
<ellipse cx="162.56" cy="90.04" rx="9.19" ry="2.82" fill="url(#g10)"/>
<ellipse cx="202.09" cy="76.64" rx="10.65" ry="2.99" fill="url(#g18)"/>
<ellipse cx="202.09" cy="90.04" rx="10.65" ry="2.99" fill="url(#g18)"/>
<ellipse cx="241.61" cy="76.64" rx="9.19" ry="2.82" fill="url(#g10)"/>
<ellipse cx="241.61" cy="90.04" rx="9.19" ry="2.82" fill="url(#g10)"/>
<ellipse cx="182.32" cy="83.34" rx="12.66" ry="3.21" fill="url(#g40)"/>
<ellipse cx="221.85" cy="83.34" rx="8.09" ry="2.68" fill="url(#g6)"/>
<rect x="63.50" y="73.11" width="237.00" height="19.45" fill="none" stroke="#000" stroke-width="1"/>
<rect x="63.50" y="96.68" width="237.00" height="19.45" fill="#3b4cc0"/>
<ellipse cx="162.56" cy="100.20" rx="12.48" ry="3.19" fill="url(#g37)"/>
<ellipse cx="162.56" cy="113.61" rx="12.48" ry="3.19" fill="url(#g37)"/>
<ellipse cx="202.09" cy="100.20" rx="12.10" ry="3.15" fill="url(#g32)"/>
<ellipse cx="202.09" cy="113.61" rx="12.10" ry="3.15" fill="url(#g32)"/>
<ellipse cx="241.61" cy="100.20" rx="9.19" ry="2.82" fill="url(#g10)"/>
<ellipse cx="241.61" cy="113.61" rx="9.19" ry="2.82" fill="url(#g10)"/>
<ellipse cx="142.80" cy="106.91" rx="8.09" ry="2.68" fill="url(#g6)"/>
<ellipse cx="182.32" cy="106.91" rx="7.65" ry="2.62" fill="url(#g5)"/>
<ellipse cx="221.85" cy="106.91" rx="10.65" ry="2.99" fill="url(#g18)"/>
<rect x="63.50" y="96.68" width="237.00" height="19.45" fill="none" stroke="#000" stroke-width="1"/>
<rect x="63.50" y="120.25" width="237.00" height="19.45" fill="#3b4cc0"/>
<ellipse cx="162.56" cy="123.77" rx="10.34" ry="2.96" fill="url(#g16)"/>
<ellipse cx="162.56" cy="137.17" rx="10.34" ry="2.96" fill="url(#g16)"/>
<ellipse cx="202.09" cy="123.77" rx="10.65" ry="2.99" fill="url(#g18)"/>
<ellipse cx="202.09" cy="137.17" rx="10.65" ry="2.99" fill="url(#g18)"/>
<ellipse cx="241.61" cy="123.77" rx="10.00" ry="2.92" fill="url(#g14)"/>
<ellipse cx="241.61" cy="137.17" rx="10.00" ry="2.92" fill="url(#g14)"/>
<ellipse cx="182.32" cy="130.47" rx="12.48" ry="3.19" fill="url(#g37)"/>
<ellipse cx="221.85" cy="130.47" rx="9.19" ry="2.82" fill="url(#g10)"/>
<rect x="63.50" y="120.25" width="237.00" height="19.45" fill="none" stroke="#000" stroke-width="1"/>
<rect x="63.50" y="143.82" width="237.00" height="19.45" fill="#3b4cc0"/>
<ellipse cx="162.56" cy="147.35" rx="11.54" ry="3.09" fill="url(#g25)"/>
<ellipse cx="162.56" cy="160.75" rx="11.54" ry="3.09" fill="url(#g25)"/>
<ellipse cx="202.09" cy="147.35" rx="12.48" ry="3.19" fill="url(#g37)"/>
<ellipse cx="202.09" cy="160.75" rx="12.48" ry="3.19" fill="url(#g37)"/>
<ellipse cx="241.61" cy="147.35" rx="10.65" ry="2.99" fill="url(#g18)"/>
<ellipse cx="241.61" cy="160.75" rx="10.65" ry="2.99" fill="url(#g18)"/>
<ellipse cx="182.32" cy="154.05" rx="11.20" ry="3.05" fill="url(#g22)"/>
<ellipse cx="221.85" cy="154.05" rx="9.62" ry="2.87" fill="url(#g12)"/>
<rect x="63.50" y="143.82" width="237.00" height="19.45" fill="none" stroke="#000" stroke-width="1"/>
<rect x="63.50" y="167.39" width="237.00" height="19.45" fill="#3b4cc0"/>
<ellipse cx="162.56" cy="170.92" rx="12.48" ry="3.19" fill="url(#g37)"/>
<ellipse cx="162.56" cy="184.31" rx="12.48" ry="3.19" fill="url(#g37)"/>
<ellipse cx="202.09" cy="170.92" rx="12.29" ry="3.17" fill="url(#g34)"/>
<ellipse cx="202.09" cy="184.31" rx="12.29" ry="3.17" fill="url(#g34)"/>
<ellipse cx="241.61" cy="170.92" rx="9.62" ry="2.87" fill="url(#g12)"/>
<ellipse cx="241.61" cy="184.31" rx="9.62" ry="2.87" fill="url(#g12)"/>
<ellipse cx="142.80" cy="177.62" rx="8.09" ry="2.68" fill="url(#g6)"/>
<ellipse cx="182.32" cy="177.62" rx="10.65" ry="2.99" fill="url(#g18)"/>
<ellipse cx="221.85" cy="177.62" rx="11.44" ry="3.08" fill="url(#g24)"/>
<rect x="63.50" y="167.39" width="237.00" height="19.45" fill="none" stroke="#000" stroke-width="1"/>
<rect x="63.50" y="190.96" width="237.00" height="19.45" fill="#3b4cc0"/>
<ellipse cx="162.56" cy="194.49" rx="10.65" ry="2.99" fill="url(#g18)"/>
<ellipse cx="162.56" cy="207.88" rx="10.65" ry="2.99" fill="url(#g18)"/>
<ellipse cx="202.09" cy="194.49" rx="12.66" ry="3.21" fill="url(#g40)"/>
<ellipse cx="202.09" cy="207.88" rx="12.66" ry="3.21" fill="url(#g40)"/>
<ellipse cx="241.61" cy="194.49" rx="10.65" ry="2.99" fill="url(#g18)"/>
<ellipse cx="241.61" cy="207.88" rx="10.65" ry="2.99" fill="url(#g18)"/>
<ellipse cx="182.32" cy="201.19" rx="11.20" ry="3.05" fill="url(#g22)"/>
<ellipse cx="221.85" cy="201.19" rx="9.62" ry="2.87" fill="url(#g12)"/>
<rect x="63.50" y="190.96" width="237.00" height="19.45" fill="none" stroke="#000" stroke-width="1"/>
<rect x="63.50" y="214.53" width="237.00" height="19.45" fill="#3b4cc0"/>
<ellipse cx="162.56" cy="218.06" rx="10.65" ry="2.99" fill="url(#g18)"/>
<ellipse cx="162.56" cy="231.45" rx="10.65" ry="2.99" fill="url(#g18)"/>
<ellipse cx="202.09" cy="218.06" rx="12.66" ry="3.21" fill="url(#g40)"/>
<ellipse cx="202.09" cy="231.45" rx="12.66" ry="3.21" fill="url(#g40)"/>
<ellipse cx="241.61" cy="218.06" rx="9.62" ry="2.87" fill="url(#g12)"/>
<ellipse cx="241.61" cy="231.45" rx="9.62" ry="2.87" fill="url(#g12)"/>
<ellipse cx="182.32" cy="224.75" rx="10.47" ry="2.97" fill="url(#g17)"/>
<ellipse cx="221.85" cy="224.75" rx="10.47" ry="2.97" fill="url(#g17)"/>
<rect x="63.50" y="214.53" width="237.00" height="19.45" fill="none" stroke="#000" stroke-width="1"/>
<rect x="63.50" y="238.10" width="237.00" height="19.45" fill="#3b4cc0"/>
<ellipse cx="162.56" cy="241.62" rx="10.47" ry="2.97" fill="url(#g17)"/>
<ellipse cx="162.56" cy="255.02" rx="10.47" ry="2.97" fill="url(#g17)"/>
<ellipse cx="202.09" cy="241.62" rx="12.66" ry="3.21" fill="url(#g40)"/>
<ellipse cx="202.09" cy="255.02" rx="12.66" ry="3.21" fill="url(#g40)"/>
<ellipse cx="241.61" cy="241.62" rx="10.34" ry="2.96" fill="url(#g16)"/>
<ellipse cx="241.61" cy="255.02" rx="10.34" ry="2.96" fill="url(#g16)"/>
<ellipse cx="182.32" cy="248.32" rx="10.82" ry="3.01" fill="url(#g19)"/>
<ellipse cx="221.85" cy="248.32" rx="11.67" ry="3.10" fill="url(#g27)"/>
<rect x="63.50" y="238.10" width="237.00" height="19.45" fill="none" stroke="#000" stroke-width="1"/>
<rect x="63.50" y="261.67" width="237.00" height="19.45" fill="#3b4cc0"/>
<ellipse cx="162.56" cy="265.19" rx="10.82" ry="3.01" fill="url(#g19)"/>
<ellipse cx="162.56" cy="278.59" rx="10.82" ry="3.01" fill="url(#g19)"/>
<ellipse cx="202.09" cy="265.19" rx="12.59" ry="3.20" fill="url(#g39)"/>
<ellipse cx="202.09" cy="278.59" rx="12.59" ry="3.20" fill="url(#g39)"/>
<ellipse cx="241.61" cy="265.19" rx="10.82" ry="3.01" fill="url(#g19)"/>
<ellipse cx="241.61" cy="278.59" rx="10.82" ry="3.01" fill="url(#g19)"/>
<ellipse cx="182.32" cy="271.89" rx="11.44" ry="3.08" fill="url(#g24)"/>
<ellipse cx="221.85" cy="271.89" rx="9.62" ry="2.87" fill="url(#g12)"/>
<rect x="63.50" y="261.67" width="237.00" height="19.45" fill="none" stroke="#000" stroke-width="1"/>
<line x1="58.00" y1="2.4" x2="58.00" y2="285.00" stroke="#000" stroke-width="1"/>
<line x1="55.00" y1="2.45" x2="61.40" y2="2.45" stroke="#000" stroke-width="0.95"/>
<path d="M54.75,283.40 L58.00,285.30 L61.25,283.40 L58.00,291.20 Z" fill="#000"/>
<line x1="54.60" y1="12.22" x2="58.00" y2="12.22" stroke="#000" stroke-width="0.9"/>
<line x1="54.60" y1="35.88" x2="58.00" y2="35.88" stroke="#000" stroke-width="0.9"/>
<text x="47.3" y="40.95" text-anchor="end" font-size="12.8">0.1</text>
<line x1="54.60" y1="59.52" x2="58.00" y2="59.52" stroke="#000" stroke-width="0.9"/>
<line x1="54.60" y1="83.17" x2="58.00" y2="83.17" stroke="#000" stroke-width="0.9"/>
<text x="47.3" y="88.04" text-anchor="end" font-size="12.8">0.3</text>
<line x1="54.60" y1="106.82" x2="58.00" y2="106.82" stroke="#000" stroke-width="0.9"/>
<line x1="54.60" y1="130.47" x2="58.00" y2="130.47" stroke="#000" stroke-width="0.9"/>
<text x="47.3" y="135.13" text-anchor="end" font-size="12.8">0.5</text>
<line x1="54.60" y1="154.12" x2="58.00" y2="154.12" stroke="#000" stroke-width="0.9"/>
<line x1="54.60" y1="177.77" x2="58.00" y2="177.77" stroke="#000" stroke-width="0.9"/>
<text x="47.3" y="182.22" text-anchor="end" font-size="12.8">0.7</text>
<line x1="54.60" y1="201.42" x2="58.00" y2="201.42" stroke="#000" stroke-width="0.9"/>
<line x1="54.60" y1="225.07" x2="58.00" y2="225.07" stroke="#000" stroke-width="0.9"/>
<text x="47.3" y="229.31" text-anchor="end" font-size="12.8">0.9</text>
<line x1="54.60" y1="248.72" x2="58.00" y2="248.72" stroke="#000" stroke-width="0.9"/>
<line x1="54.60" y1="272.38" x2="58.00" y2="272.38" stroke="#000" stroke-width="0.9"/>
<text x="47.3" y="276.40" text-anchor="end" font-size="12.8">1.1</text>
<text x="82.10" y="297.90" text-anchor="middle" font-size="12.8">-3</text>
<text x="119.70" y="297.90" text-anchor="middle" font-size="12.8">-2</text>
<text x="157.30" y="297.90" text-anchor="middle" font-size="12.8">-1</text>
<text x="191.50" y="297.90" text-anchor="middle" font-size="12.8">0</text>
<text x="229.40" y="297.90" text-anchor="middle" font-size="12.8">1</text>
<text x="269.25" y="297.90" text-anchor="middle" font-size="12.8">2</text>
<text x="193.80" y="316.90" text-anchor="middle" font-size="13.3">N</text>
<rect x="309.4" y="13.50" width="10" height="259.8" fill="url(#cbar)" stroke="#000" stroke-width="1"/>
<line x1="319.4" y1="13.50" x2="323" y2="13.50" stroke="#000" stroke-width="1"/>
<line x1="319.4" y1="273.30" x2="323" y2="273.30" stroke="#000" stroke-width="1"/>
<text x="329.5" y="17.6" font-size="12.8">1</text>
<text x="329.2" y="277.3" font-size="12.8">0</text>
<text x="306.40" y="292.40" font-size="12.8">ρ/ρ<tspan font-size="9.2" dy="2.6">t</tspan></text>
</g>
<text x="363.30" y="296.10" font-size="13.3">t(ms)</text>
<text x="414.70" y="17.30" style="fill:#f2f2f2" font-size="13.3">(2<tspan style="font-family:Liberation Serif">π</tspan>/3, <tspan style="font-family:Liberation Serif">π</tspan>)</text>
<text x="361.30" y="10.40" font-size="17.5" font-weight="bold">c</text>
<g transform="translate(0.00,335.80)">
<rect x="63.50" y="2.40" width="237.00" height="19.45" fill="#3b4cc0"/>
<ellipse cx="222.25" cy="12.12" rx="13.00" ry="3.24" fill="url(#g40)"/>
<rect x="63.50" y="2.40" width="237.00" height="19.45" fill="none" stroke="#000" stroke-width="1"/>
<rect x="63.50" y="26.08" width="237.00" height="19.45" fill="#3b4cc0"/>
<ellipse cx="202.49" cy="29.11" rx="12.29" ry="3.17" fill="url(#g34)"/>
<ellipse cx="202.49" cy="42.51" rx="12.29" ry="3.17" fill="url(#g34)"/>
<ellipse cx="242.01" cy="29.11" rx="12.48" ry="3.19" fill="url(#g37)"/>
<ellipse cx="242.01" cy="42.51" rx="12.48" ry="3.19" fill="url(#g37)"/>
<ellipse cx="182.72" cy="35.80" rx="8.69" ry="2.76" fill="url(#g8)"/>
<ellipse cx="222.25" cy="35.80" rx="9.19" ry="2.82" fill="url(#g10)"/>
<rect x="63.50" y="26.08" width="237.00" height="19.45" fill="none" stroke="#000" stroke-width="1"/>
<rect x="63.50" y="49.76" width="237.00" height="19.45" fill="#3b4cc0"/>
<ellipse cx="162.96" cy="52.78" rx="12.29" ry="3.17" fill="url(#g34)"/>
<ellipse cx="162.96" cy="66.19" rx="12.29" ry="3.17" fill="url(#g34)"/>
<ellipse cx="202.49" cy="52.78" rx="10.00" ry="2.92" fill="url(#g14)"/>
<ellipse cx="202.49" cy="66.19" rx="10.00" ry="2.92" fill="url(#g14)"/>
<ellipse cx="242.01" cy="52.78" rx="12.48" ry="3.19" fill="url(#g37)"/>
<ellipse cx="242.01" cy="66.19" rx="12.48" ry="3.19" fill="url(#g37)"/>
<ellipse cx="182.72" cy="59.48" rx="10.65" ry="2.99" fill="url(#g18)"/>
<ellipse cx="222.25" cy="59.48" rx="11.89" ry="3.13" fill="url(#g29)"/>
<rect x="63.50" y="49.76" width="237.00" height="19.45" fill="none" stroke="#000" stroke-width="1"/>
<rect x="63.50" y="73.44" width="237.00" height="19.45" fill="#3b4cc0"/>
<ellipse cx="162.96" cy="76.46" rx="11.67" ry="3.10" fill="url(#g27)"/>
<ellipse cx="162.96" cy="89.86" rx="11.67" ry="3.10" fill="url(#g27)"/>
<ellipse cx="202.49" cy="76.46" rx="12.66" ry="3.21" fill="url(#g40)"/>
<ellipse cx="202.49" cy="89.86" rx="12.66" ry="3.21" fill="url(#g40)"/>
<ellipse cx="242.01" cy="76.46" rx="7.31" ry="2.57" fill="url(#g4)"/>
<ellipse cx="242.01" cy="89.86" rx="7.31" ry="2.57" fill="url(#g4)"/>
<ellipse cx="182.72" cy="83.16" rx="10.65" ry="2.99" fill="url(#g18)"/>
<ellipse cx="222.25" cy="83.16" rx="10.34" ry="2.96" fill="url(#g16)"/>
<rect x="63.50" y="73.44" width="237.00" height="19.45" fill="none" stroke="#000" stroke-width="1"/>
<rect x="63.50" y="97.12" width="237.00" height="19.45" fill="#3b4cc0"/>
<ellipse cx="162.96" cy="100.14" rx="12.10" ry="3.15" fill="url(#g32)"/>
<ellipse cx="162.96" cy="113.55" rx="12.10" ry="3.15" fill="url(#g32)"/>
<ellipse cx="202.49" cy="100.14" rx="10.65" ry="2.99" fill="url(#g18)"/>
<ellipse cx="202.49" cy="113.55" rx="10.65" ry="2.99" fill="url(#g18)"/>
<ellipse cx="242.01" cy="100.14" rx="10.00" ry="2.92" fill="url(#g14)"/>
<ellipse cx="242.01" cy="113.55" rx="10.00" ry="2.92" fill="url(#g14)"/>
<ellipse cx="143.20" cy="106.84" rx="7.31" ry="2.57" fill="url(#g4)"/>
<ellipse cx="182.72" cy="106.84" rx="12.66" ry="3.21" fill="url(#g40)"/>
<ellipse cx="222.25" cy="106.84" rx="10.00" ry="2.92" fill="url(#g14)"/>
<rect x="63.50" y="97.12" width="237.00" height="19.45" fill="none" stroke="#000" stroke-width="1"/>
<rect x="63.50" y="120.80" width="237.00" height="19.45" fill="#3b4cc0"/>
<ellipse cx="162.96" cy="123.83" rx="12.48" ry="3.19" fill="url(#g37)"/>
<ellipse cx="162.96" cy="137.22" rx="12.48" ry="3.19" fill="url(#g37)"/>
<ellipse cx="202.49" cy="123.83" rx="10.82" ry="3.01" fill="url(#g19)"/>
<ellipse cx="202.49" cy="137.22" rx="10.82" ry="3.01" fill="url(#g19)"/>
<ellipse cx="242.01" cy="123.83" rx="9.62" ry="2.87" fill="url(#g12)"/>
<ellipse cx="242.01" cy="137.22" rx="9.62" ry="2.87" fill="url(#g12)"/>
<ellipse cx="143.20" cy="130.53" rx="6.91" ry="2.52" fill="url(#g3)"/>
<ellipse cx="182.72" cy="130.53" rx="9.19" ry="2.82" fill="url(#g10)"/>
<ellipse cx="222.25" cy="130.53" rx="9.62" ry="2.87" fill="url(#g12)"/>
<rect x="63.50" y="120.80" width="237.00" height="19.45" fill="none" stroke="#000" stroke-width="1"/>
<rect x="63.50" y="144.48" width="237.00" height="19.45" fill="#3b4cc0"/>
<ellipse cx="162.96" cy="147.50" rx="10.65" ry="2.99" fill="url(#g18)"/>
<ellipse cx="162.96" cy="160.90" rx="10.65" ry="2.99" fill="url(#g18)"/>
<ellipse cx="202.49" cy="147.50" rx="11.44" ry="3.08" fill="url(#g24)"/>
<ellipse cx="202.49" cy="160.90" rx="11.44" ry="3.08" fill="url(#g24)"/>
<ellipse cx="242.01" cy="147.50" rx="10.34" ry="2.96" fill="url(#g16)"/>
<ellipse cx="242.01" cy="160.90" rx="10.34" ry="2.96" fill="url(#g16)"/>
<ellipse cx="182.72" cy="154.20" rx="12.48" ry="3.19" fill="url(#g37)"/>
<ellipse cx="222.25" cy="154.20" rx="9.19" ry="2.82" fill="url(#g10)"/>
<rect x="63.50" y="144.48" width="237.00" height="19.45" fill="none" stroke="#000" stroke-width="1"/>
<rect x="63.50" y="168.16" width="237.00" height="19.45" fill="#3b4cc0"/>
<ellipse cx="162.96" cy="171.19" rx="10.93" ry="3.02" fill="url(#g20)"/>
<ellipse cx="162.96" cy="184.58" rx="10.93" ry="3.02" fill="url(#g20)"/>
<ellipse cx="202.49" cy="171.19" rx="11.67" ry="3.10" fill="url(#g27)"/>
<ellipse cx="202.49" cy="184.58" rx="11.67" ry="3.10" fill="url(#g27)"/>
<ellipse cx="242.01" cy="171.19" rx="9.62" ry="2.87" fill="url(#g12)"/>
<ellipse cx="242.01" cy="184.58" rx="9.62" ry="2.87" fill="url(#g12)"/>
<ellipse cx="182.72" cy="177.88" rx="9.62" ry="2.87" fill="url(#g12)"/>
<ellipse cx="222.25" cy="177.88" rx="12.66" ry="3.21" fill="url(#g40)"/>
<rect x="63.50" y="168.16" width="237.00" height="19.45" fill="none" stroke="#000" stroke-width="1"/>
<rect x="63.50" y="191.84" width="237.00" height="19.45" fill="#3b4cc0"/>
<ellipse cx="162.96" cy="194.87" rx="10.65" ry="2.99" fill="url(#g18)"/>
<ellipse cx="162.96" cy="208.26" rx="10.65" ry="2.99" fill="url(#g18)"/>
<ellipse cx="202.49" cy="194.87" rx="11.44" ry="3.08" fill="url(#g24)"/>
<ellipse cx="202.49" cy="208.26" rx="11.44" ry="3.08" fill="url(#g24)"/>
<ellipse cx="242.01" cy="194.87" rx="12.48" ry="3.19" fill="url(#g37)"/>
<ellipse cx="242.01" cy="208.26" rx="12.48" ry="3.19" fill="url(#g37)"/>
<ellipse cx="182.72" cy="201.56" rx="10.34" ry="2.96" fill="url(#g16)"/>
<ellipse cx="222.25" cy="201.56" rx="10.65" ry="2.99" fill="url(#g18)"/>
<rect x="63.50" y="191.84" width="237.00" height="19.45" fill="none" stroke="#000" stroke-width="1"/>
<rect x="63.50" y="215.52" width="237.00" height="19.45" fill="#3b4cc0"/>
<ellipse cx="162.96" cy="218.55" rx="8.90" ry="2.78" fill="url(#g9)"/>
<ellipse cx="162.96" cy="231.94" rx="8.90" ry="2.78" fill="url(#g9)"/>
<ellipse cx="202.49" cy="218.55" rx="12.66" ry="3.21" fill="url(#g40)"/>
<ellipse cx="202.49" cy="231.94" rx="12.66" ry="3.21" fill="url(#g40)"/>
<ellipse cx="242.01" cy="218.55" rx="10.82" ry="3.01" fill="url(#g19)"/>
<ellipse cx="242.01" cy="231.94" rx="10.82" ry="3.01" fill="url(#g19)"/>
<ellipse cx="281.54" cy="218.55" rx="9.62" ry="2.87" fill="url(#g12)"/>
<ellipse cx="281.54" cy="231.94" rx="9.62" ry="2.87" fill="url(#g12)"/>
<ellipse cx="182.72" cy="225.25" rx="6.91" ry="2.52" fill="url(#g3)"/>
<ellipse cx="222.25" cy="225.25" rx="10.93" ry="3.02" fill="url(#g20)"/>
<rect x="63.50" y="215.52" width="237.00" height="19.45" fill="none" stroke="#000" stroke-width="1"/>
<rect x="63.50" y="239.20" width="237.00" height="19.45" fill="#3b4cc0"/>
<ellipse cx="162.96" cy="242.23" rx="10.47" ry="2.97" fill="url(#g17)"/>
<ellipse cx="162.96" cy="255.62" rx="10.47" ry="2.97" fill="url(#g17)"/>
<ellipse cx="202.49" cy="242.23" rx="12.66" ry="3.21" fill="url(#g40)"/>
<ellipse cx="202.49" cy="255.62" rx="12.66" ry="3.21" fill="url(#g40)"/>
<ellipse cx="242.01" cy="242.23" rx="10.93" ry="3.02" fill="url(#g20)"/>
<ellipse cx="242.01" cy="255.62" rx="10.93" ry="3.02" fill="url(#g20)"/>
<ellipse cx="281.54" cy="242.23" rx="8.69" ry="2.76" fill="url(#g8)"/>
<ellipse cx="281.54" cy="255.62" rx="8.69" ry="2.76" fill="url(#g8)"/>
<ellipse cx="182.72" cy="248.93" rx="10.65" ry="2.99" fill="url(#g18)"/>
<ellipse cx="222.25" cy="248.93" rx="11.20" ry="3.05" fill="url(#g22)"/>
<rect x="63.50" y="239.20" width="237.00" height="19.45" fill="none" stroke="#000" stroke-width="1"/>
<rect x="63.50" y="262.88" width="237.00" height="19.45" fill="#3b4cc0"/>
<ellipse cx="162.96" cy="265.91" rx="12.48" ry="3.19" fill="url(#g37)"/>
<ellipse cx="162.96" cy="279.31" rx="12.48" ry="3.19" fill="url(#g37)"/>
<ellipse cx="202.49" cy="265.91" rx="11.54" ry="3.09" fill="url(#g25)"/>
<ellipse cx="202.49" cy="279.31" rx="11.54" ry="3.09" fill="url(#g25)"/>
<ellipse cx="242.01" cy="265.91" rx="10.93" ry="3.02" fill="url(#g20)"/>
<ellipse cx="242.01" cy="279.31" rx="10.93" ry="3.02" fill="url(#g20)"/>
<ellipse cx="281.54" cy="265.91" rx="6.91" ry="2.52" fill="url(#g3)"/>
<ellipse cx="281.54" cy="279.31" rx="6.91" ry="2.52" fill="url(#g3)"/>
<ellipse cx="182.72" cy="272.61" rx="11.89" ry="3.13" fill="url(#g29)"/>
<ellipse cx="222.25" cy="272.61" rx="10.47" ry="2.97" fill="url(#g17)"/>
<rect x="63.50" y="262.88" width="237.00" height="19.45" fill="none" stroke="#000" stroke-width="1"/>
<line x1="59.00" y1="2.4" x2="59.00" y2="285.33" stroke="#000" stroke-width="1"/>
<line x1="56.00" y1="2.45" x2="62.40" y2="2.45" stroke="#000" stroke-width="0.95"/>
<path d="M55.75,283.73 L59.00,285.63 L62.25,283.73 L59.00,291.53 Z" fill="#000"/>
<line x1="55.60" y1="12.22" x2="59.00" y2="12.22" stroke="#000" stroke-width="0.9"/>
<line x1="55.60" y1="35.91" x2="59.00" y2="35.91" stroke="#000" stroke-width="0.9"/>
<text x="47.3" y="40.55" text-anchor="end" font-size="12.8">0.1</text>
<line x1="55.60" y1="59.59" x2="59.00" y2="59.59" stroke="#000" stroke-width="0.9"/>
<line x1="55.60" y1="83.26" x2="59.00" y2="83.26" stroke="#000" stroke-width="0.9"/>
<text x="47.3" y="87.64" text-anchor="end" font-size="12.8">0.3</text>
<line x1="55.60" y1="106.94" x2="59.00" y2="106.94" stroke="#000" stroke-width="0.9"/>
<line x1="55.60" y1="130.62" x2="59.00" y2="130.62" stroke="#000" stroke-width="0.9"/>
<text x="47.3" y="134.73" text-anchor="end" font-size="12.8">0.5</text>
<line x1="55.60" y1="154.30" x2="59.00" y2="154.30" stroke="#000" stroke-width="0.9"/>
<line x1="55.60" y1="177.98" x2="59.00" y2="177.98" stroke="#000" stroke-width="0.9"/>
<text x="47.3" y="181.82" text-anchor="end" font-size="12.8">0.7</text>
<line x1="55.60" y1="201.66" x2="59.00" y2="201.66" stroke="#000" stroke-width="0.9"/>
<line x1="55.60" y1="225.34" x2="59.00" y2="225.34" stroke="#000" stroke-width="0.9"/>
<text x="47.3" y="228.91" text-anchor="end" font-size="12.8">0.9</text>
<line x1="55.60" y1="249.03" x2="59.00" y2="249.03" stroke="#000" stroke-width="0.9"/>
<line x1="55.60" y1="272.71" x2="59.00" y2="272.71" stroke="#000" stroke-width="0.9"/>
<text x="47.3" y="276.00" text-anchor="end" font-size="12.8">1.1</text>
<text x="82.10" y="299.33" text-anchor="middle" font-size="12.8">-3</text>
<text x="119.70" y="299.33" text-anchor="middle" font-size="12.8">-2</text>
<text x="157.30" y="299.33" text-anchor="middle" font-size="12.8">-1</text>
<text x="194.90" y="299.33" text-anchor="middle" font-size="12.8">0</text>
<text x="232.50" y="299.33" text-anchor="middle" font-size="12.8">1</text>
<text x="270.10" y="299.33" text-anchor="middle" font-size="12.8">2</text>
<text x="193.10" y="320.73" text-anchor="middle" font-size="13.3">N</text>
<rect x="309.4" y="12.90" width="10" height="259.8" fill="url(#cbar)" stroke="#000" stroke-width="1"/>
<line x1="319.4" y1="12.90" x2="323" y2="12.90" stroke="#000" stroke-width="1"/>
<line x1="319.4" y1="272.70" x2="323" y2="272.70" stroke="#000" stroke-width="1"/>
<text x="329.5" y="17.6" font-size="12.8">1</text>
<text x="329.2" y="277.3" font-size="12.8">0</text>
<text x="308.20" y="294.40" font-size="12.8">ρ/ρ<tspan font-size="9.2" dy="2.6">t</tspan></text>
</g>
<text x="11.20" y="633.00" font-size="13.3">t(ms)</text>
<text x="69.00" y="351.60" style="fill:#f2f2f2" font-size="13.3">(0, <tspan style="font-family:Liberation Serif">π</tspan>)</text>
<text x="-0.10" y="346.70" font-size="17.5" font-weight="bold">b</text>
<rect x="415.70" y="603.40" width="5.6" height="5.6" fill="#cdc3fb" stroke="#8557dc" stroke-width="0.9"/>
<rect x="428.35" y="503.23" width="5.6" height="5.6" fill="#cdc3fb" stroke="#8557dc" stroke-width="0.9"/>
<rect x="441.00" y="450.69" width="5.6" height="5.6" fill="#cdc3fb" stroke="#8557dc" stroke-width="0.9"/>
<rect x="453.65" y="430.14" width="5.6" height="5.6" fill="#cdc3fb" stroke="#8557dc" stroke-width="0.9"/>
<rect x="466.30" y="444.62" width="5.6" height="5.6" fill="#cdc3fb" stroke="#8557dc" stroke-width="0.9"/>
<rect x="478.95" y="485.02" width="5.6" height="5.6" fill="#cdc3fb" stroke="#8557dc" stroke-width="0.9"/>
<rect x="491.60" y="489.22" width="5.6" height="5.6" fill="#cdc3fb" stroke="#8557dc" stroke-width="0.9"/>
<rect x="504.25" y="444.85" width="5.6" height="5.6" fill="#cdc3fb" stroke="#8557dc" stroke-width="0.9"/>
<rect x="516.90" y="423.61" width="5.6" height="5.6" fill="#cdc3fb" stroke="#8557dc" stroke-width="0.9"/>
<rect x="529.55" y="420.80" width="5.6" height="5.6" fill="#cdc3fb" stroke="#8557dc" stroke-width="0.9"/>
<rect x="542.20" y="450.69" width="5.6" height="5.6" fill="#cdc3fb" stroke="#8557dc" stroke-width="0.9"/>
<rect x="554.85" y="452.33" width="5.6" height="5.6" fill="#cdc3fb" stroke="#8557dc" stroke-width="0.9"/>
<rect x="567.50" y="442.05" width="5.6" height="5.6" fill="#cdc3fb" stroke="#8557dc" stroke-width="0.9"/>
<rect x="580.15" y="421.74" width="5.6" height="5.6" fill="#cdc3fb" stroke="#8557dc" stroke-width="0.9"/>
<rect x="592.80" y="427.34" width="5.6" height="5.6" fill="#cdc3fb" stroke="#8557dc" stroke-width="0.9"/>
<rect x="605.45" y="434.11" width="5.6" height="5.6" fill="#cdc3fb" stroke="#8557dc" stroke-width="0.9"/>
<rect x="618.10" y="446.95" width="5.6" height="5.6" fill="#cdc3fb" stroke="#8557dc" stroke-width="0.9"/>
<rect x="630.75" y="448.12" width="5.6" height="5.6" fill="#cdc3fb" stroke="#8557dc" stroke-width="0.9"/>
<rect x="643.40" y="439.25" width="5.6" height="5.6" fill="#cdc3fb" stroke="#8557dc" stroke-width="0.9"/>
<rect x="656.05" y="419.40" width="5.6" height="5.6" fill="#cdc3fb" stroke="#8557dc" stroke-width="0.9"/>
<rect x="668.70" y="431.31" width="5.6" height="5.6" fill="#cdc3fb" stroke="#8557dc" stroke-width="0.9"/>
<path d="M418.50,601.20 L422.00,606.20 L418.50,611.20 L415.00,606.20 Z" fill="#f0d6d8" stroke="#d4505a" stroke-width="1"/>
<path d="M431.15,482.12 L434.65,487.12 L431.15,492.12 L427.65,487.12 Z" fill="#f0d6d8" stroke="#d4505a" stroke-width="1"/>
<path d="M443.80,434.25 L447.30,439.25 L443.80,444.25 L440.30,439.25 Z" fill="#f0d6d8" stroke="#d4505a" stroke-width="1"/>
<path d="M456.45,400.39 L459.95,405.39 L456.45,410.39 L452.95,405.39 Z" fill="#f0d6d8" stroke="#d4505a" stroke-width="1"/>
<path d="M469.10,412.07 L472.60,417.07 L469.10,422.07 L465.60,417.07 Z" fill="#f0d6d8" stroke="#d4505a" stroke-width="1"/>
<path d="M481.75,447.79 L485.25,452.79 L481.75,457.79 L478.25,452.79 Z" fill="#f0d6d8" stroke="#d4505a" stroke-width="1"/>
<path d="M494.40,445.22 L497.90,450.22 L494.40,455.22 L490.90,450.22 Z" fill="#f0d6d8" stroke="#d4505a" stroke-width="1"/>
<path d="M507.05,408.80 L510.55,413.80 L507.05,418.80 L503.55,413.80 Z" fill="#f0d6d8" stroke="#d4505a" stroke-width="1"/>
<path d="M519.70,381.24 L523.20,386.24 L519.70,391.24 L516.20,386.24 Z" fill="#f0d6d8" stroke="#d4505a" stroke-width="1"/>
<path d="M532.35,395.72 L535.85,400.72 L532.35,405.72 L528.85,400.72 Z" fill="#f0d6d8" stroke="#d4505a" stroke-width="1"/>
<path d="M545.00,398.99 L548.50,403.99 L545.00,408.99 L541.50,403.99 Z" fill="#f0d6d8" stroke="#d4505a" stroke-width="1"/>
<path d="M557.65,379.38 L561.15,384.38 L557.65,389.38 L554.15,384.38 Z" fill="#f0d6d8" stroke="#d4505a" stroke-width="1"/>
<path d="M570.30,388.95 L573.80,393.95 L570.30,398.95 L566.80,393.95 Z" fill="#f0d6d8" stroke="#d4505a" stroke-width="1"/>
<path d="M582.95,409.26 L586.45,414.26 L582.95,419.26 L579.45,414.26 Z" fill="#f0d6d8" stroke="#d4505a" stroke-width="1"/>
<path d="M595.60,429.11 L599.10,434.11 L595.60,439.11 L592.10,434.11 Z" fill="#f0d6d8" stroke="#d4505a" stroke-width="1"/>
<path d="M608.25,410.90 L611.75,415.90 L608.25,420.90 L604.75,415.90 Z" fill="#f0d6d8" stroke="#d4505a" stroke-width="1"/>
<path d="M620.90,393.62 L624.40,398.62 L620.90,403.62 L617.40,398.62 Z" fill="#f0d6d8" stroke="#d4505a" stroke-width="1"/>
<path d="M633.55,399.46 L637.05,404.46 L633.55,409.46 L630.05,404.46 Z" fill="#f0d6d8" stroke="#d4505a" stroke-width="1"/>
<path d="M646.20,423.97 L649.70,428.97 L646.20,433.97 L642.70,428.97 Z" fill="#f0d6d8" stroke="#d4505a" stroke-width="1"/>
<path d="M658.85,427.01 L662.35,432.01 L658.85,437.01 L655.35,432.01 Z" fill="#f0d6d8" stroke="#d4505a" stroke-width="1"/>
<path d="M671.50,412.77 L675.00,417.77 L671.50,422.77 L668.00,417.77 Z" fill="#f0d6d8" stroke="#d4505a" stroke-width="1"/>
<path d="M418.50,606.20 L419.34,598.80 L420.19,591.80 L421.03,585.11 L421.87,578.68 L422.72,572.42 L423.56,566.26 L424.40,560.13 L425.25,553.96 L426.09,547.67 L426.93,541.18 L427.78,534.45 L428.62,527.53 L429.46,520.52 L430.31,513.50 L431.15,506.56 L431.99,499.81 L432.84,493.32 L433.68,487.20 L434.52,481.55 L435.37,476.46 L436.21,472.04 L437.05,468.37 L437.90,465.33 L438.74,462.74 L439.58,460.44 L440.43,458.23 L441.27,455.96 L442.11,453.50 L442.96,450.92 L443.80,448.28 L444.64,445.66 L445.49,443.13 L446.33,440.76 L447.17,438.62 L448.02,436.78 L448.86,435.24 L449.70,434.00 L450.55,433.06 L451.39,432.41 L452.23,432.05 L453.08,431.98 L453.92,432.19 L454.76,432.68 L455.61,433.45 L456.45,434.49 L457.29,435.80 L458.14,437.37 L458.98,439.21 L459.82,441.32 L460.67,443.72 L461.51,446.43 L462.35,449.49 L463.20,452.90 L464.04,456.70 L464.88,460.92 L465.73,465.53 L466.57,470.37 L467.41,475.17 L468.26,479.69 L469.10,483.74 L469.94,487.43 L470.79,490.94 L471.63,494.47 L472.47,498.20 L473.32,502.17 L474.16,506.32 L475.00,510.56 L475.85,514.81 L476.69,519.01 L477.53,523.07 L478.38,526.92 L479.22,530.48 L480.06,533.65 L480.91,536.33 L481.75,538.35 L482.59,539.56 L483.44,539.83 L484.28,539.10 L485.12,537.50 L485.97,535.12 L486.81,532.09 L487.65,528.53 L488.50,524.53 L489.34,520.23 L490.18,515.73 L491.03,511.15 L491.87,506.55 L492.71,501.97 L493.56,497.42 L494.40,492.95 L495.24,488.56 L496.09,484.28 L496.93,480.15 L497.77,476.16 L498.62,472.21 L499.46,468.16 L500.30,463.92 L501.15,459.51 L501.99,455.02 L502.83,450.53 L503.68,446.13 L504.52,441.88 L505.36,437.81 L506.21,433.96 L507.05,430.36 L507.89,427.05 L508.74,424.06 L509.58,421.40 L510.42,419.07 L511.27,417.05 L512.11,415.33 L512.95,413.90 L513.80,412.76 L514.64,411.89 L515.48,411.28 L516.33,410.91 L517.17,410.79 L518.01,410.89 L518.86,411.21 L519.70,411.76 L520.54,412.51 L521.39,413.47 L522.23,414.64 L523.07,416.02 L523.92,417.59 L524.76,419.35 L525.60,421.31 L526.45,423.45 L527.29,425.78 L528.13,428.27 L528.98,430.91 L529.82,433.68 L530.66,436.57 L531.51,439.55 L532.35,442.60 L533.19,445.72 L534.04,448.87 L534.88,452.03 L535.72,455.17 L536.57,458.28 L537.41,461.33 L538.25,464.29 L539.10,467.14 L539.94,469.86 L540.78,472.41 L541.63,474.79 L542.47,476.95 L543.31,478.88 L544.16,480.55 L545.00,481.94 L545.84,483.03 L546.69,483.78 L547.53,484.18 L548.37,484.20 L549.22,483.82 L550.06,483.00 L550.90,481.74 L551.75,480.05 L552.59,477.96 L553.43,475.51 L554.28,472.75 L555.12,469.71 L555.96,466.43 L556.81,462.95 L557.65,459.31 L558.49,455.55 L559.34,451.69 L560.18,447.77 L561.02,443.83 L561.87,439.89 L562.71,435.99 L563.55,432.16 L564.40,428.42 L565.24,424.75 L566.08,421.00 L566.93,417.05 L567.77,412.89 L568.61,408.76 L569.46,404.87 L570.30,401.31 L571.14,398.15 L571.99,395.46 L572.83,393.30 L573.67,391.63 L574.52,390.37 L575.36,389.42 L576.20,388.69 L577.05,388.09 L577.89,387.60 L578.73,387.22 L579.58,386.97 L580.42,386.87 L581.26,386.93 L582.11,387.17 L582.95,387.59 L583.79,388.22 L584.64,389.07 L585.48,390.15 L586.32,391.47 L587.17,393.03 L588.01,394.79 L588.85,396.75 L589.70,398.87 L590.54,401.14 L591.38,403.53 L592.23,406.02 L593.07,408.60 L593.91,411.23 L594.76,413.90 L595.60,416.59 L596.44,419.28 L597.29,421.95 L598.13,424.58 L598.97,427.15 L599.82,429.65 L600.66,432.07 L601.50,434.38 L602.35,436.57 L603.19,438.62 L604.03,440.51 L604.88,442.23 L605.72,443.76 L606.56,445.09 L607.41,446.19 L608.25,447.05 L609.09,447.65 L609.94,447.97 L610.78,448.01 L611.62,447.73 L612.47,447.13 L613.31,446.19 L614.15,444.89 L615.00,443.21 L615.84,441.13 L616.68,438.66 L617.53,435.82 L618.37,432.73 L619.21,429.45 L620.06,426.09 L620.90,422.72 L621.74,419.42 L622.59,416.20 L623.43,413.07 L624.27,410.01 L625.12,407.05 L625.96,404.17 L626.80,401.39 L627.65,398.71 L628.49,396.13 L629.33,393.67 L630.18,391.32 L631.02,389.10 L631.86,387.01 L632.71,385.06 L633.55,383.25 L634.39,381.58 L635.24,380.08 L636.08,378.73 L636.92,377.55 L637.77,376.53 L638.61,375.67 L639.45,374.98 L640.30,374.46 L641.14,374.10 L641.98,373.92 L642.83,373.90 L643.67,374.05 L644.51,374.37 L645.36,374.86 L646.20,375.52 L647.04,376.36 L647.89,377.37 L648.73,378.55 L649.57,379.91 L650.42,381.45 L651.26,383.16 L652.10,385.05 L652.95,387.12 L653.79,389.37 L654.63,391.76 L655.48,394.29 L656.32,396.92 L657.16,399.63 L658.01,402.40 L658.85,405.20 L659.69,408.00 L660.54,410.79 L661.38,413.54 L662.22,416.22 L663.07,418.81 L663.91,421.28 L664.75,423.62 L665.60,425.79 L666.44,427.77 L667.28,429.54 L668.13,431.07 L668.97,432.34 L669.81,433.33 L670.66,434.00 L671.50,434.34" fill="none" stroke="#8557dc" stroke-width="1.25"/>
<path d="M418.50,606.18 L419.34,598.82 L420.19,591.84 L421.03,585.17 L421.87,578.74 L422.72,572.47 L423.56,566.29 L424.40,560.13 L425.25,553.92 L426.09,547.57 L426.93,541.03 L427.78,534.22 L428.62,527.22 L429.46,520.10 L430.31,512.95 L431.15,505.85 L431.99,498.90 L432.84,492.16 L433.68,485.73 L434.52,479.59 L435.37,473.73 L436.21,468.13 L437.05,462.78 L437.90,457.76 L438.74,453.16 L439.58,449.10 L440.43,445.64 L441.27,442.61 L442.11,439.78 L442.96,436.89 L443.80,433.72 L444.64,430.30 L445.49,426.78 L446.33,423.32 L447.17,420.08 L448.02,417.10 L448.86,414.39 L449.70,411.94 L450.55,409.74 L451.39,407.80 L452.23,406.10 L453.08,404.65 L453.92,403.43 L454.76,402.45 L455.61,401.70 L456.45,401.18 L457.29,400.88 L458.14,400.80 L458.98,400.93 L459.82,401.28 L460.67,401.83 L461.51,402.58 L462.35,403.52 L463.20,404.65 L464.04,405.96 L464.88,407.44 L465.73,409.09 L466.57,410.97 L467.41,413.16 L468.26,415.72 L469.10,418.68 L469.94,421.85 L470.79,424.96 L471.63,427.89 L472.47,430.68 L473.32,433.42 L474.16,436.15 L475.00,438.94 L475.85,441.75 L476.69,444.57 L477.53,447.36 L478.38,450.07 L479.22,452.69 L480.06,455.17 L480.91,457.48 L481.75,459.59 L482.59,461.46 L483.44,463.07 L484.28,464.37 L485.12,465.34 L485.97,465.94 L486.81,466.13 L487.65,465.90 L488.50,465.27 L489.34,464.26 L490.18,462.93 L491.03,461.32 L491.87,459.45 L492.71,457.38 L493.56,455.14 L494.40,452.74 L495.24,450.17 L496.09,447.42 L496.93,444.47 L497.77,441.29 L498.62,437.88 L499.46,434.22 L500.30,430.31 L501.15,426.24 L501.99,422.16 L502.83,418.20 L503.68,414.41 L504.52,410.79 L505.36,407.33 L506.21,404.01 L507.05,400.84 L507.89,397.80 L508.74,394.90 L509.58,392.15 L510.42,389.56 L511.27,387.13 L512.11,384.87 L512.95,382.80 L513.80,380.91 L514.64,379.22 L515.48,377.73 L516.33,376.45 L517.17,375.39 L518.01,374.56 L518.86,373.94 L519.70,373.53 L520.54,373.32 L521.39,373.30 L522.23,373.46 L523.07,373.81 L523.92,374.32 L524.76,375.00 L525.60,375.83 L526.45,376.81 L527.29,377.93 L528.13,379.18 L528.98,380.56 L529.82,382.06 L530.66,383.66 L531.51,385.37 L532.35,387.17 L533.19,389.06 L534.04,391.03 L534.88,393.07 L535.72,395.17 L536.57,397.31 L537.41,399.45 L538.25,401.58 L539.10,403.67 L539.94,405.71 L540.78,407.65 L541.63,409.49 L542.47,411.20 L543.31,412.76 L544.16,414.13 L545.00,415.30 L545.84,416.24 L546.69,416.94 L547.53,417.35 L548.37,417.48 L549.22,417.31 L550.06,416.87 L550.90,416.18 L551.75,415.25 L552.59,414.12 L553.43,412.79 L554.28,411.29 L555.12,409.64 L555.96,407.86 L556.81,405.96 L557.65,403.98 L558.49,401.92 L559.34,399.82 L560.18,397.68 L561.02,395.54 L561.87,393.42 L562.71,391.34 L563.55,389.32 L564.40,387.38 L565.24,385.55 L566.08,383.85 L566.93,382.29 L567.77,380.90 L568.61,379.69 L569.46,378.65 L570.30,377.77 L571.14,377.05 L571.99,376.50 L572.83,376.09 L573.67,375.83 L574.52,375.71 L575.36,375.72 L576.20,375.89 L577.05,376.22 L577.89,376.73 L578.73,377.44 L579.58,378.35 L580.42,379.50 L581.26,380.90 L582.11,382.55 L582.95,384.48 L583.79,386.71 L584.64,389.21 L585.48,391.99 L586.32,395.01 L587.17,398.26 L588.01,401.71 L588.85,405.35 L589.70,409.16 L590.54,413.12 L591.38,417.21 L592.23,421.41 L593.07,425.68 L593.91,430.02 L594.76,434.40 L595.60,438.80 L596.44,443.19 L597.29,447.56 L598.13,451.88 L598.97,456.13 L599.82,460.29 L600.66,464.33 L601.50,468.24 L602.35,471.98 L603.19,475.56 L604.03,478.96 L604.88,482.17 L605.72,485.20 L606.56,488.04 L607.41,490.66 L608.25,493.01 L609.09,494.99 L609.94,496.55 L610.78,497.60 L611.62,498.06 L612.47,497.88 L613.31,497.06 L614.15,495.68 L615.00,493.78 L615.84,491.44 L616.68,488.73 L617.53,485.71 L618.37,482.44 L619.21,478.99 L620.06,475.43 L620.90,471.81 L621.74,468.20 L622.59,464.63 L623.43,461.09 L624.27,457.61 L625.12,454.18 L625.96,450.82 L626.80,447.55 L627.65,444.36 L628.49,441.27 L629.33,438.29 L630.18,435.42 L631.02,432.69 L631.86,430.09 L632.71,427.64 L633.55,425.35 L634.39,423.22 L635.24,421.27 L636.08,419.50 L636.92,417.94 L637.77,416.56 L638.61,415.38 L639.45,414.36 L640.30,413.52 L641.14,412.82 L641.98,412.26 L642.83,411.84 L643.67,411.53 L644.51,411.33 L645.36,411.29 L646.20,411.46 L647.04,411.90 L647.89,412.66 L648.73,413.80 L649.57,415.39 L650.42,417.41 L651.26,419.80 L652.10,422.46 L652.95,425.31 L653.79,428.26 L654.63,431.22 L655.48,434.18 L656.32,437.14 L657.16,440.14 L658.01,443.20 L658.85,446.34 L659.69,449.59 L660.54,452.97 L661.38,456.51 L662.22,460.23 L663.07,464.15 L663.91,468.27 L664.75,472.60 L665.60,477.15 L666.44,481.92 L667.28,486.93 L668.13,492.16 L668.97,497.65 L669.81,503.38 L670.66,509.36 L671.50,515.61" fill="none" stroke="#d4505a" stroke-width="1.25"/>
<rect x="405.9" y="361.45" width="276.5" height="255.95" fill="none" stroke="#333" stroke-width="1"/>
<line x1="418.50" y1="361.45" x2="418.50" y2="364.8" stroke="#333" stroke-width="0.9"/>
<line x1="418.50" y1="617.4" x2="418.50" y2="614.0" stroke="#333" stroke-width="0.9"/>
<text x="418.50" y="634.8" text-anchor="middle" font-size="12.8">0</text>
<line x1="405.9" y1="606.20" x2="409.2" y2="606.20" stroke="#333" stroke-width="0.9"/>
<line x1="682.4" y1="606.20" x2="679.1" y2="606.20" stroke="#333" stroke-width="0.9"/>
<text x="398.8" y="610.70" text-anchor="end" font-size="12.8">0</text>
<line x1="469.10" y1="361.45" x2="469.10" y2="364.8" stroke="#333" stroke-width="0.9"/>
<line x1="469.10" y1="617.4" x2="469.10" y2="614.0" stroke="#333" stroke-width="0.9"/>
<text x="469.10" y="634.8" text-anchor="middle" font-size="12.8">0.2</text>
<line x1="405.9" y1="559.50" x2="409.2" y2="559.50" stroke="#333" stroke-width="0.9"/>
<line x1="682.4" y1="559.50" x2="679.1" y2="559.50" stroke="#333" stroke-width="0.9"/>
<text x="398.8" y="564.00" text-anchor="end" font-size="12.8">0.2</text>
<line x1="519.70" y1="361.45" x2="519.70" y2="364.8" stroke="#333" stroke-width="0.9"/>
<line x1="519.70" y1="617.4" x2="519.70" y2="614.0" stroke="#333" stroke-width="0.9"/>
<text x="519.70" y="634.8" text-anchor="middle" font-size="12.8">0.4</text>
<line x1="405.9" y1="512.80" x2="409.2" y2="512.80" stroke="#333" stroke-width="0.9"/>
<line x1="682.4" y1="512.80" x2="679.1" y2="512.80" stroke="#333" stroke-width="0.9"/>
<text x="398.8" y="517.30" text-anchor="end" font-size="12.8">0.4</text>
<line x1="570.30" y1="361.45" x2="570.30" y2="364.8" stroke="#333" stroke-width="0.9"/>
<line x1="570.30" y1="617.4" x2="570.30" y2="614.0" stroke="#333" stroke-width="0.9"/>
<text x="570.30" y="634.8" text-anchor="middle" font-size="12.8">0.6</text>
<line x1="405.9" y1="466.10" x2="409.2" y2="466.10" stroke="#333" stroke-width="0.9"/>
<line x1="682.4" y1="466.10" x2="679.1" y2="466.10" stroke="#333" stroke-width="0.9"/>
<text x="398.8" y="470.60" text-anchor="end" font-size="12.8">0.6</text>
<line x1="620.90" y1="361.45" x2="620.90" y2="364.8" stroke="#333" stroke-width="0.9"/>
<line x1="620.90" y1="617.4" x2="620.90" y2="614.0" stroke="#333" stroke-width="0.9"/>
<text x="620.90" y="634.8" text-anchor="middle" font-size="12.8">0.8</text>
<line x1="405.9" y1="419.40" x2="409.2" y2="419.40" stroke="#333" stroke-width="0.9"/>
<line x1="682.4" y1="419.40" x2="679.1" y2="419.40" stroke="#333" stroke-width="0.9"/>
<text x="398.8" y="423.90" text-anchor="end" font-size="12.8">0.8</text>
<line x1="671.50" y1="361.45" x2="671.50" y2="364.8" stroke="#333" stroke-width="0.9"/>
<line x1="671.50" y1="617.4" x2="671.50" y2="614.0" stroke="#333" stroke-width="0.9"/>
<text x="671.50" y="634.8" text-anchor="middle" font-size="12.8">1</text>
<line x1="405.9" y1="372.70" x2="409.2" y2="372.70" stroke="#333" stroke-width="0.9"/>
<line x1="682.4" y1="372.70" x2="679.1" y2="372.70" stroke="#333" stroke-width="0.9"/>
<text x="398.8" y="377.20" text-anchor="end" font-size="12.8">1</text>
<text x="544" y="654.1" text-anchor="middle" font-size="13.3">Time(ms)</text>
<text transform="translate(365.6,489) rotate(-90)" text-anchor="middle" font-size="12.8"><tspan font-style="italic">D</tspan>(t)</text>
<rect x="592.1" y="537.9" width="5.4" height="5.4" fill="#cdc3fb" stroke="#8557dc" stroke-width="0.9"/>
<path d="M594.80,549.90 L598.40,554.70 L594.80,559.50 L591.20,554.70 Z" fill="#f0d6d8" stroke="#d4505a" stroke-width="1"/>
<line x1="584.3" y1="568.7" x2="605.8" y2="568.7" stroke="#8557dc" stroke-width="1.2"/>
<line x1="584.3" y1="582.4" x2="605.8" y2="582.4" stroke="#d4505a" stroke-width="1.2"/>
<text x="610.8" y="544.0" font-size="13.1">(2<tspan style="font-family:Liberation Serif">π</tspan>/3, <tspan style="font-family:Liberation Serif">π</tspan>)</text>
<text x="610.8" y="557.9" font-size="13.1">(0, <tspan style="font-family:Liberation Serif">π</tspan>)</text>
<text x="610.8" y="572.1" font-size="13.1">Num.</text>
<text x="610.8" y="585.6" font-size="13.1">Num.</text>
<text x="354.6" y="350.7" font-size="17.8" font-weight="bold">d</text>
</svg>
</body></html>
